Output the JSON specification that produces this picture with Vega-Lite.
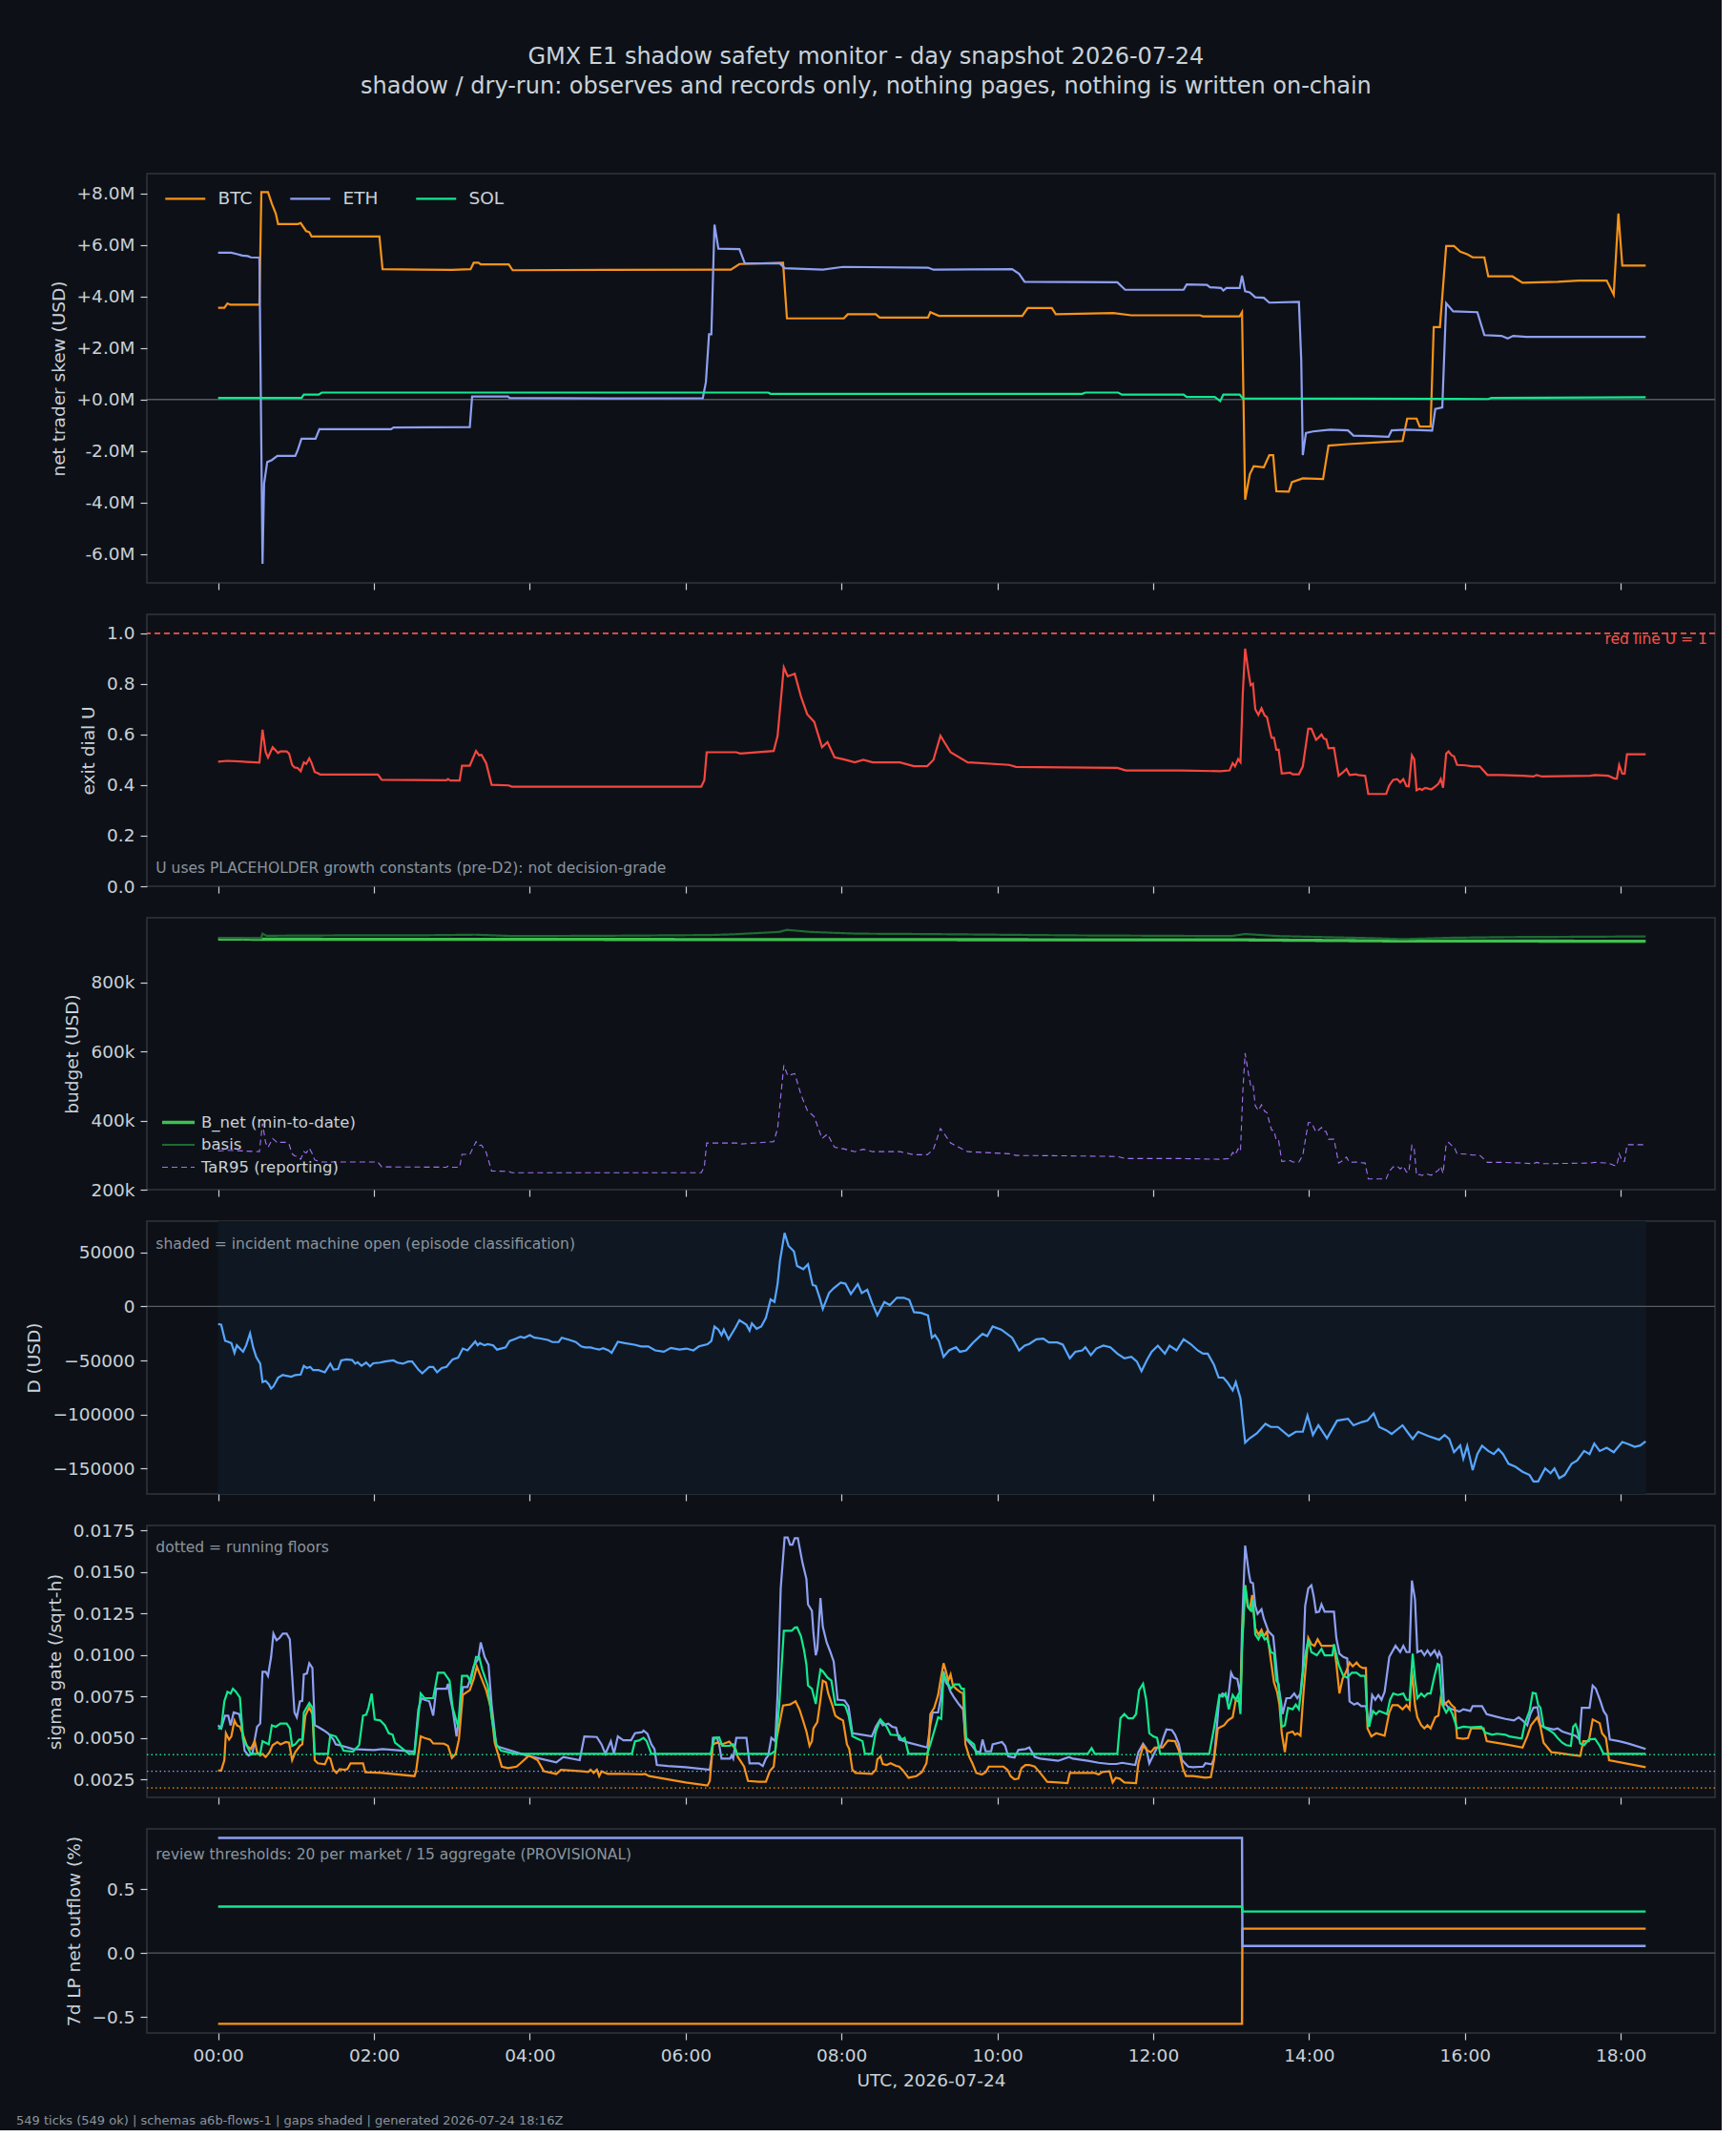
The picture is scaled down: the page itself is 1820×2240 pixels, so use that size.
{
"$schema":"https://vega.github.io/schema/vega-lite/v6.json",
"background":"#0d1117",
"padding":{"left":16,"top":48,"right":5,"bottom":2},
"title":{"text":["GMX E1 shadow safety monitor - day snapshot 2026-07-24","shadow / dry-run: observes and records only, nothing pages, nothing is written on-chain"],"anchor":"middle","frame":"bounds","fontSize":24,"fontWeight":"normal","color":"#c9d1d9","lineHeight":31,"offset":78,"font":"DejaVu Sans"},
"config":{"font":"DejaVu Sans","view":{"stroke":"#30363d","strokeWidth":1.5},
"axis":{"domain":false,"grid":false,"tickColor":"#c9d1d9","tickSize":7,"tickWidth":1.2,"labelColor":"#c9d1d9","labelFontSize":18.5,"labelFont":"DejaVu Sans","titleColor":"#c9d1d9","titleFontSize":18.5,"titleFont":"DejaVu Sans","titleFontWeight":"normal","labelPadding":6,"titlePadding":9},
"legend":{"labelColor":"#c9d1d9","labelFont":"DejaVu Sans","labelLimit":400}},
"spacing":33,
"bounds":"flush",
"resolve":{"scale":{"color":"independent","strokeDash":"independent","strokeWidth":"independent"},"legend":{"color":"independent","strokeDash":"independent","strokeWidth":"independent"}},
"datasets":{
"skew":[
{"h":0,"a":"BTC","v":3560000},{"h":0.08,"a":"BTC","v":3560000},{"h":0.12,"a":"BTC","v":3730000},{"h":0.16,"a":"BTC","v":3680000},{"h":0.53,"a":"BTC","v":3680000},{"h":0.555,"a":"BTC","v":8050000},{"h":0.64,"a":"BTC","v":8050000},{"h":0.69,"a":"BTC","v":7600000},{"h":0.74,"a":"BTC","v":7220000},{"h":0.77,"a":"BTC","v":6810000},{"h":1.02,"a":"BTC","v":6810000},{"h":1.06,"a":"BTC","v":6850000},{"h":1.13,"a":"BTC","v":6540000},{"h":1.17,"a":"BTC","v":6500000},{"h":1.2,"a":"BTC","v":6330000},{"h":2.07,"a":"BTC","v":6330000},{"h":2.11,"a":"BTC","v":5060000},{"h":2.6,"a":"BTC","v":5040000},{"h":3.0,"a":"BTC","v":5030000},{"h":3.24,"a":"BTC","v":5060000},{"h":3.28,"a":"BTC","v":5310000},{"h":3.34,"a":"BTC","v":5310000},{"h":3.37,"a":"BTC","v":5250000},{"h":3.73,"a":"BTC","v":5250000},{"h":3.78,"a":"BTC","v":5020000},{"h":5.0,"a":"BTC","v":5030000},{"h":6.58,"a":"BTC","v":5040000},{"h":6.69,"a":"BTC","v":5260000},{"h":7.25,"a":"BTC","v":5310000},{"h":7.3,"a":"BTC","v":3150000},{"h":8.03,"a":"BTC","v":3150000},{"h":8.08,"a":"BTC","v":3310000},{"h":8.44,"a":"BTC","v":3310000},{"h":8.49,"a":"BTC","v":3180000},{"h":9.11,"a":"BTC","v":3180000},{"h":9.14,"a":"BTC","v":3390000},{"h":9.25,"a":"BTC","v":3250000},{"h":10.32,"a":"BTC","v":3250000},{"h":10.39,"a":"BTC","v":3550000},{"h":10.7,"a":"BTC","v":3550000},{"h":10.75,"a":"BTC","v":3310000},{"h":11.49,"a":"BTC","v":3360000},{"h":11.72,"a":"BTC","v":3270000},{"h":12.6,"a":"BTC","v":3270000},{"h":12.64,"a":"BTC","v":3230000},{"h":13.11,"a":"BTC","v":3230000},{"h":13.14,"a":"BTC","v":3390000},{"h":13.18,"a":"BTC","v":-3890000},{"h":13.24,"a":"BTC","v":-2900000},{"h":13.29,"a":"BTC","v":-2590000},{"h":13.42,"a":"BTC","v":-2630000},{"h":13.49,"a":"BTC","v":-2160000},{"h":13.54,"a":"BTC","v":-2160000},{"h":13.58,"a":"BTC","v":-3560000},{"h":13.74,"a":"BTC","v":-3580000},{"h":13.78,"a":"BTC","v":-3210000},{"h":13.92,"a":"BTC","v":-3060000},{"h":14.18,"a":"BTC","v":-3090000},{"h":14.25,"a":"BTC","v":-1790000},{"h":14.5,"a":"BTC","v":-1730000},{"h":14.99,"a":"BTC","v":-1640000},{"h":15.2,"a":"BTC","v":-1610000},{"h":15.26,"a":"BTC","v":-740000},{"h":15.38,"a":"BTC","v":-740000},{"h":15.42,"a":"BTC","v":-1050000},{"h":15.56,"a":"BTC","v":-1050000},{"h":15.6,"a":"BTC","v":2810000},{"h":15.68,"a":"BTC","v":2810000},{"h":15.76,"a":"BTC","v":5960000},{"h":15.86,"a":"BTC","v":5960000},{"h":15.94,"a":"BTC","v":5740000},{"h":16.03,"a":"BTC","v":5640000},{"h":16.1,"a":"BTC","v":5520000},{"h":16.25,"a":"BTC","v":5520000},{"h":16.3,"a":"BTC","v":4780000},{"h":16.61,"a":"BTC","v":4780000},{"h":16.74,"a":"BTC","v":4530000},{"h":17.19,"a":"BTC","v":4570000},{"h":17.46,"a":"BTC","v":4620000},{"h":17.82,"a":"BTC","v":4620000},{"h":17.91,"a":"BTC","v":4070000},{"h":17.97,"a":"BTC","v":7220000},{"h":18.02,"a":"BTC","v":5200000},{"h":18.32,"a":"BTC","v":5200000},
{"h":0,"a":"ETH","v":5700000},{"h":0.17,"a":"ETH","v":5700000},{"h":0.25,"a":"ETH","v":5640000},{"h":0.31,"a":"ETH","v":5590000},{"h":0.38,"a":"ETH","v":5570000},{"h":0.42,"a":"ETH","v":5520000},{"h":0.53,"a":"ETH","v":5510000},{"h":0.57,"a":"ETH","v":-6380000},{"h":0.59,"a":"ETH","v":-3270000},{"h":0.63,"a":"ETH","v":-2430000},{"h":0.69,"a":"ETH","v":-2350000},{"h":0.76,"a":"ETH","v":-2190000},{"h":0.99,"a":"ETH","v":-2190000},{"h":1.02,"a":"ETH","v":-1980000},{"h":1.07,"a":"ETH","v":-1520000},{"h":1.25,"a":"ETH","v":-1520000},{"h":1.3,"a":"ETH","v":-1150000},{"h":2.22,"a":"ETH","v":-1150000},{"h":2.25,"a":"ETH","v":-1090000},{"h":3.23,"a":"ETH","v":-1070000},{"h":3.26,"a":"ETH","v":120000},{"h":3.72,"a":"ETH","v":120000},{"h":3.74,"a":"ETH","v":60000},{"h":5.0,"a":"ETH","v":40000},{"h":6.22,"a":"ETH","v":50000},{"h":6.26,"a":"ETH","v":680000},{"h":6.3,"a":"ETH","v":2530000},{"h":6.33,"a":"ETH","v":2530000},{"h":6.37,"a":"ETH","v":6790000},{"h":6.42,"a":"ETH","v":5860000},{"h":6.69,"a":"ETH","v":5840000},{"h":6.76,"a":"ETH","v":5280000},{"h":7.21,"a":"ETH","v":5280000},{"h":7.27,"a":"ETH","v":5100000},{"h":7.76,"a":"ETH","v":5040000},{"h":8.02,"a":"ETH","v":5150000},{"h":9.11,"a":"ETH","v":5120000},{"h":9.18,"a":"ETH","v":5040000},{"h":10.19,"a":"ETH","v":5060000},{"h":10.28,"a":"ETH","v":4880000},{"h":10.35,"a":"ETH","v":4570000},{"h":11.54,"a":"ETH","v":4550000},{"h":11.64,"a":"ETH","v":4260000},{"h":12.39,"a":"ETH","v":4260000},{"h":12.43,"a":"ETH","v":4470000},{"h":12.69,"a":"ETH","v":4450000},{"h":12.73,"a":"ETH","v":4360000},{"h":12.87,"a":"ETH","v":4330000},{"h":12.9,"a":"ETH","v":4230000},{"h":12.94,"a":"ETH","v":4330000},{"h":13.11,"a":"ETH","v":4330000},{"h":13.14,"a":"ETH","v":4810000},{"h":13.18,"a":"ETH","v":4200000},{"h":13.24,"a":"ETH","v":4160000},{"h":13.31,"a":"ETH","v":3970000},{"h":13.42,"a":"ETH","v":3950000},{"h":13.49,"a":"ETH","v":3760000},{"h":13.87,"a":"ETH","v":3790000},{"h":13.9,"a":"ETH","v":1540000},{"h":13.92,"a":"ETH","v":-2160000},{"h":13.96,"a":"ETH","v":-1300000},{"h":14.05,"a":"ETH","v":-1240000},{"h":14.27,"a":"ETH","v":-1170000},{"h":14.5,"a":"ETH","v":-1200000},{"h":14.57,"a":"ETH","v":-1400000},{"h":14.81,"a":"ETH","v":-1420000},{"h":15.02,"a":"ETH","v":-1450000},{"h":15.06,"a":"ETH","v":-1200000},{"h":15.26,"a":"ETH","v":-1170000},{"h":15.58,"a":"ETH","v":-1210000},{"h":15.62,"a":"ETH","v":-370000},{"h":15.71,"a":"ETH","v":-310000},{"h":15.76,"a":"ETH","v":3740000},{"h":15.85,"a":"ETH","v":3420000},{"h":16.16,"a":"ETH","v":3390000},{"h":16.25,"a":"ETH","v":2500000},{"h":16.47,"a":"ETH","v":2470000},{"h":16.55,"a":"ETH","v":2370000},{"h":16.62,"a":"ETH","v":2470000},{"h":16.79,"a":"ETH","v":2430000},{"h":18.32,"a":"ETH","v":2430000},
{"h":0,"a":"SOL","v":60000},{"h":1.07,"a":"SOL","v":60000},{"h":1.1,"a":"SOL","v":190000},{"h":1.29,"a":"SOL","v":190000},{"h":1.33,"a":"SOL","v":270000},{"h":7.06,"a":"SOL","v":270000},{"h":7.09,"a":"SOL","v":220000},{"h":11.09,"a":"SOL","v":220000},{"h":11.13,"a":"SOL","v":270000},{"h":11.55,"a":"SOL","v":270000},{"h":11.6,"a":"SOL","v":190000},{"h":12.39,"a":"SOL","v":190000},{"h":12.43,"a":"SOL","v":100000},{"h":12.79,"a":"SOL","v":100000},{"h":12.86,"a":"SOL","v":-60000},{"h":12.9,"a":"SOL","v":190000},{"h":13.11,"a":"SOL","v":190000},{"h":13.15,"a":"SOL","v":40000},{"h":16.3,"a":"SOL","v":20000},{"h":16.34,"a":"SOL","v":60000},{"h":18.32,"a":"SOL","v":90000}
],
"u":[
{"h":0,"u":0.493,"TaR95 (reporting)":312000},{"h":0.12,"u":0.496,"TaR95 (reporting)":314000},{"h":0.53,"u":0.489,"TaR95 (reporting)":310000},{"h":0.57,"u":0.619,"TaR95 (reporting)":392000},{"h":0.61,"u":0.531,"TaR95 (reporting)":336000},{"h":0.64,"u":0.509,"TaR95 (reporting)":322000},{"h":0.7,"u":0.55,"TaR95 (reporting)":348000},{"h":0.77,"u":0.527,"TaR95 (reporting)":334000},{"h":0.8,"u":0.533,"TaR95 (reporting)":337000},{"h":0.88,"u":0.533,"TaR95 (reporting)":337000},{"h":0.91,"u":0.525,"TaR95 (reporting)":332000},{"h":0.95,"u":0.48,"TaR95 (reporting)":304000},{"h":0.98,"u":0.47,"TaR95 (reporting)":298000},{"h":1.02,"u":0.468,"TaR95 (reporting)":296000},{"h":1.06,"u":0.455,"TaR95 (reporting)":288000},{"h":1.1,"u":0.49,"TaR95 (reporting)":310000},{"h":1.13,"u":0.484,"TaR95 (reporting)":306000},{"h":1.17,"u":0.506,"TaR95 (reporting)":320000},{"h":1.2,"u":0.487,"TaR95 (reporting)":308000},{"h":1.24,"u":0.452,"TaR95 (reporting)":286000},{"h":1.28,"u":0.447,"TaR95 (reporting)":283000},{"h":1.31,"u":0.442,"TaR95 (reporting)":280000},{"h":2.05,"u":0.442,"TaR95 (reporting)":280000},{"h":2.1,"u":0.421,"TaR95 (reporting)":266000},{"h":2.93,"u":0.419,"TaR95 (reporting)":265000},{"h":2.95,"u":0.424,"TaR95 (reporting)":268000},{"h":2.98,"u":0.418,"TaR95 (reporting)":265000},{"h":3.1,"u":0.418,"TaR95 (reporting)":265000},{"h":3.13,"u":0.477,"TaR95 (reporting)":302000},{"h":3.23,"u":0.477,"TaR95 (reporting)":302000},{"h":3.31,"u":0.535,"TaR95 (reporting)":339000},{"h":3.35,"u":0.518,"TaR95 (reporting)":328000},{"h":3.38,"u":0.52,"TaR95 (reporting)":329000},{"h":3.44,"u":0.487,"TaR95 (reporting)":308000},{"h":3.51,"u":0.401,"TaR95 (reporting)":254000},{"h":3.73,"u":0.399,"TaR95 (reporting)":253000},{"h":3.77,"u":0.394,"TaR95 (reporting)":249000},{"h":6.2,"u":0.394,"TaR95 (reporting)":249000},{"h":6.24,"u":0.42,"TaR95 (reporting)":266000},{"h":6.27,"u":0.53,"TaR95 (reporting)":335000},{"h":6.65,"u":0.53,"TaR95 (reporting)":335000},{"h":6.7,"u":0.525,"TaR95 (reporting)":332000},{"h":7.13,"u":0.535,"TaR95 (reporting)":339000},{"h":7.18,"u":0.595,"TaR95 (reporting)":377000},{"h":7.26,"u":0.865,"TaR95 (reporting)":560000},{"h":7.31,"u":0.83,"TaR95 (reporting)":530000},{"h":7.4,"u":0.84,"TaR95 (reporting)":536000},{"h":7.48,"u":0.75,"TaR95 (reporting)":475000},{"h":7.56,"u":0.68,"TaR95 (reporting)":430000},{"h":7.65,"u":0.65,"TaR95 (reporting)":411000},{"h":7.75,"u":0.55,"TaR95 (reporting)":348000},{"h":7.82,"u":0.57,"TaR95 (reporting)":361000},{"h":7.91,"u":0.51,"TaR95 (reporting)":323000},{"h":8.05,"u":0.5,"TaR95 (reporting)":317000},{"h":8.17,"u":0.49,"TaR95 (reporting)":310000},{"h":8.28,"u":0.5,"TaR95 (reporting)":317000},{"h":8.4,"u":0.49,"TaR95 (reporting)":310000},{"h":8.75,"u":0.49,"TaR95 (reporting)":310000},{"h":8.93,"u":0.475,"TaR95 (reporting)":301000},{"h":9.1,"u":0.475,"TaR95 (reporting)":301000},{"h":9.18,"u":0.5,"TaR95 (reporting)":317000},{"h":9.27,"u":0.595,"TaR95 (reporting)":377000},{"h":9.33,"u":0.565,"TaR95 (reporting)":358000},{"h":9.4,"u":0.53,"TaR95 (reporting)":335000},{"h":9.62,"u":0.49,"TaR95 (reporting)":310000},{"h":10.15,"u":0.48,"TaR95 (reporting)":304000},{"h":10.24,"u":0.472,"TaR95 (reporting)":299000},{"h":10.85,"u":0.47,"TaR95 (reporting)":298000},{"h":11.54,"u":0.468,"TaR95 (reporting)":296000},{"h":11.65,"u":0.458,"TaR95 (reporting)":290000},{"h":12.36,"u":0.458,"TaR95 (reporting)":290000},{"h":12.86,"u":0.455,"TaR95 (reporting)":288000},{"h":12.98,"u":0.458,"TaR95 (reporting)":290000},{"h":13.02,"u":0.487,"TaR95 (reporting)":308000},{"h":13.05,"u":0.474,"TaR95 (reporting)":300000},{"h":13.09,"u":0.503,"TaR95 (reporting)":318000},{"h":13.12,"u":0.491,"TaR95 (reporting)":311000},{"h":13.15,"u":0.763,"TaR95 (reporting)":483000},{"h":13.18,"u":0.94,"TaR95 (reporting)":595000},{"h":13.22,"u":0.852,"TaR95 (reporting)":539000},{"h":13.25,"u":0.795,"TaR95 (reporting)":503000},{"h":13.28,"u":0.801,"TaR95 (reporting)":507000},{"h":13.31,"u":0.7,"TaR95 (reporting)":443000},{"h":13.35,"u":0.678,"TaR95 (reporting)":429000},{"h":13.39,"u":0.704,"TaR95 (reporting)":446000},{"h":13.43,"u":0.675,"TaR95 (reporting)":427000},{"h":13.46,"u":0.669,"TaR95 (reporting)":423000},{"h":13.5,"u":0.613,"TaR95 (reporting)":388000},{"h":13.52,"u":0.587,"TaR95 (reporting)":372000},{"h":13.55,"u":0.587,"TaR95 (reporting)":372000},{"h":13.58,"u":0.54,"TaR95 (reporting)":342000},{"h":13.61,"u":0.54,"TaR95 (reporting)":342000},{"h":13.65,"u":0.446,"TaR95 (reporting)":282000},{"h":13.76,"u":0.449,"TaR95 (reporting)":284000},{"h":13.79,"u":0.443,"TaR95 (reporting)":280000},{"h":13.87,"u":0.443,"TaR95 (reporting)":280000},{"h":13.92,"u":0.474,"TaR95 (reporting)":300000},{"h":13.99,"u":0.623,"TaR95 (reporting)":394000},{"h":14.03,"u":0.623,"TaR95 (reporting)":394000},{"h":14.09,"u":0.579,"TaR95 (reporting)":367000},{"h":14.12,"u":0.587,"TaR95 (reporting)":372000},{"h":14.16,"u":0.6,"TaR95 (reporting)":380000},{"h":14.19,"u":0.584,"TaR95 (reporting)":370000},{"h":14.22,"u":0.581,"TaR95 (reporting)":368000},{"h":14.25,"u":0.546,"TaR95 (reporting)":346000},{"h":14.32,"u":0.547,"TaR95 (reporting)":346000},{"h":14.38,"u":0.437,"TaR95 (reporting)":277000},{"h":14.43,"u":0.449,"TaR95 (reporting)":284000},{"h":14.48,"u":0.464,"TaR95 (reporting)":294000},{"h":14.52,"u":0.44,"TaR95 (reporting)":279000},{"h":14.6,"u":0.443,"TaR95 (reporting)":280000},{"h":14.63,"u":0.44,"TaR95 (reporting)":279000},{"h":14.72,"u":0.437,"TaR95 (reporting)":277000},{"h":14.76,"u":0.365,"TaR95 (reporting)":231000},{"h":14.99,"u":0.365,"TaR95 (reporting)":231000},{"h":15.03,"u":0.399,"TaR95 (reporting)":253000},{"h":15.08,"u":0.421,"TaR95 (reporting)":266000},{"h":15.13,"u":0.424,"TaR95 (reporting)":268000},{"h":15.17,"u":0.411,"TaR95 (reporting)":260000},{"h":15.21,"u":0.424,"TaR95 (reporting)":268000},{"h":15.25,"u":0.396,"TaR95 (reporting)":251000},{"h":15.28,"u":0.395,"TaR95 (reporting)":250000},{"h":15.32,"u":0.518,"TaR95 (reporting)":328000},{"h":15.35,"u":0.502,"TaR95 (reporting)":318000},{"h":15.38,"u":0.38,"TaR95 (reporting)":241000},{"h":15.42,"u":0.386,"TaR95 (reporting)":244000},{"h":15.45,"u":0.381,"TaR95 (reporting)":241000},{"h":15.49,"u":0.389,"TaR95 (reporting)":246000},{"h":15.53,"u":0.386,"TaR95 (reporting)":244000},{"h":15.57,"u":0.383,"TaR95 (reporting)":242000},{"h":15.62,"u":0.395,"TaR95 (reporting)":250000},{"h":15.66,"u":0.405,"TaR95 (reporting)":256000},{"h":15.69,"u":0.424,"TaR95 (reporting)":268000},{"h":15.72,"u":0.39,"TaR95 (reporting)":247000},{"h":15.76,"u":0.524,"TaR95 (reporting)":332000},{"h":15.79,"u":0.533,"TaR95 (reporting)":337000},{"h":15.83,"u":0.518,"TaR95 (reporting)":328000},{"h":15.86,"u":0.514,"TaR95 (reporting)":325000},{"h":15.9,"u":0.48,"TaR95 (reporting)":304000},{"h":16.01,"u":0.478,"TaR95 (reporting)":303000},{"h":16.1,"u":0.474,"TaR95 (reporting)":300000},{"h":16.19,"u":0.474,"TaR95 (reporting)":300000},{"h":16.29,"u":0.44,"TaR95 (reporting)":279000},{"h":16.46,"u":0.44,"TaR95 (reporting)":279000},{"h":16.74,"u":0.437,"TaR95 (reporting)":277000},{"h":16.88,"u":0.434,"TaR95 (reporting)":275000},{"h":16.92,"u":0.44,"TaR95 (reporting)":279000},{"h":16.99,"u":0.434,"TaR95 (reporting)":275000},{"h":17.61,"u":0.437,"TaR95 (reporting)":277000},{"h":17.67,"u":0.44,"TaR95 (reporting)":279000},{"h":17.84,"u":0.437,"TaR95 (reporting)":277000},{"h":17.92,"u":0.426,"TaR95 (reporting)":270000},{"h":17.95,"u":0.426,"TaR95 (reporting)":270000},{"h":17.98,"u":0.48,"TaR95 (reporting)":304000},{"h":18.02,"u":0.445,"TaR95 (reporting)":282000},{"h":18.05,"u":0.445,"TaR95 (reporting)":282000},{"h":18.08,"u":0.522,"TaR95 (reporting)":330000},{"h":18.32,"u":0.522,"TaR95 (reporting)":330000}
],
"budget":[
{"h":0,"s":"B_net (min-to-date)","v":925000},{"h":13.15,"s":"B_net (min-to-date)","v":923000},{"h":15.0,"s":"B_net (min-to-date)","v":920000},{"h":18.32,"s":"B_net (min-to-date)","v":919000},
{"h":0,"s":"basis","v":929000},{"h":0.55,"s":"basis","v":928000},{"h":0.57,"s":"basis","v":941000},{"h":0.62,"s":"basis","v":935000},{"h":1.5,"s":"basis","v":936000},{"h":2.5,"s":"basis","v":936000},{"h":3.3,"s":"basis","v":938000},{"h":3.8,"s":"basis","v":934000},{"h":5,"s":"basis","v":935000},{"h":6.3,"s":"basis","v":937000},{"h":6.6,"s":"basis","v":939000},{"h":7.2,"s":"basis","v":946000},{"h":7.3,"s":"basis","v":952000},{"h":7.6,"s":"basis","v":946000},{"h":8.2,"s":"basis","v":941000},{"h":9,"s":"basis","v":940000},{"h":10,"s":"basis","v":938000},{"h":11,"s":"basis","v":936000},{"h":12,"s":"basis","v":935000},{"h":13,"s":"basis","v":934000},{"h":13.18,"s":"basis","v":940000},{"h":13.6,"s":"basis","v":934000},{"h":14,"s":"basis","v":932000},{"h":14.8,"s":"basis","v":928000},{"h":15.2,"s":"basis","v":925000},{"h":15.8,"s":"basis","v":929000},{"h":16.5,"s":"basis","v":931000},{"h":17.5,"s":"basis","v":932000},{"h":18.32,"s":"basis","v":933000}
],
"d":[
{"h":0,"v":-16200},{"h":0.04,"v":-17000},{"h":0.09,"v":-31900},{"h":0.13,"v":-32800},{"h":0.17,"v":-34000},{"h":0.21,"v":-43000},{"h":0.24,"v":-36000},{"h":0.28,"v":-39000},{"h":0.32,"v":-42000},{"h":0.36,"v":-36000},{"h":0.41,"v":-25000},{"h":0.45,"v":-38000},{"h":0.49,"v":-47000},{"h":0.54,"v":-53000},{"h":0.57,"v":-70000},{"h":0.61,"v":-69000},{"h":0.65,"v":-72000},{"h":0.68,"v":-76000},{"h":0.71,"v":-74000},{"h":0.77,"v":-66000},{"h":0.83,"v":-63500},{"h":0.86,"v":-64000},{"h":0.94,"v":-65000},{"h":0.99,"v":-63500},{"h":1.06,"v":-63000},{"h":1.1,"v":-55000},{"h":1.14,"v":-57000},{"h":1.18,"v":-56000},{"h":1.22,"v":-59000},{"h":1.29,"v":-59000},{"h":1.37,"v":-61000},{"h":1.44,"v":-53000},{"h":1.48,"v":-58500},{"h":1.54,"v":-58000},{"h":1.58,"v":-50000},{"h":1.65,"v":-49000},{"h":1.72,"v":-49600},{"h":1.76,"v":-53000},{"h":1.79,"v":-51700},{"h":1.84,"v":-55000},{"h":1.9,"v":-52000},{"h":1.95,"v":-55500},{"h":1.99,"v":-52600},{"h":2.08,"v":-52000},{"h":2.14,"v":-51000},{"h":2.25,"v":-50000},{"h":2.3,"v":-52000},{"h":2.37,"v":-53000},{"h":2.44,"v":-51000},{"h":2.49,"v":-51000},{"h":2.57,"v":-58500},{"h":2.62,"v":-62000},{"h":2.68,"v":-58000},{"h":2.71,"v":-56000},{"h":2.76,"v":-56000},{"h":2.81,"v":-61000},{"h":2.87,"v":-57000},{"h":2.93,"v":-56000},{"h":3.01,"v":-49000},{"h":3.08,"v":-47500},{"h":3.14,"v":-39000},{"h":3.2,"v":-40700},{"h":3.3,"v":-32500},{"h":3.33,"v":-36000},{"h":3.36,"v":-34000},{"h":3.42,"v":-36000},{"h":3.46,"v":-35000},{"h":3.53,"v":-36000},{"h":3.58,"v":-40000},{"h":3.69,"v":-38000},{"h":3.74,"v":-32000},{"h":3.82,"v":-30000},{"h":3.88,"v":-28000},{"h":3.93,"v":-29000},{"h":4.0,"v":-26600},{"h":4.06,"v":-29000},{"h":4.12,"v":-29500},{"h":4.23,"v":-31000},{"h":4.29,"v":-33000},{"h":4.37,"v":-33000},{"h":4.41,"v":-29000},{"h":4.51,"v":-31000},{"h":4.59,"v":-33000},{"h":4.66,"v":-37000},{"h":4.71,"v":-38000},{"h":4.78,"v":-38000},{"h":4.83,"v":-39000},{"h":4.89,"v":-40000},{"h":4.94,"v":-38700},{"h":5.01,"v":-40700},{"h":5.05,"v":-43000},{"h":5.13,"v":-32800},{"h":5.22,"v":-34000},{"h":5.34,"v":-35400},{"h":5.43,"v":-37000},{"h":5.52,"v":-37000},{"h":5.61,"v":-40700},{"h":5.72,"v":-42000},{"h":5.81,"v":-38400},{"h":5.92,"v":-40000},{"h":6.01,"v":-39000},{"h":6.1,"v":-40700},{"h":6.17,"v":-37000},{"h":6.28,"v":-35000},{"h":6.33,"v":-32000},{"h":6.37,"v":-18600},{"h":6.42,"v":-21500},{"h":6.46,"v":-26600},{"h":6.49,"v":-21500},{"h":6.55,"v":-30400},{"h":6.64,"v":-19500},{"h":6.69,"v":-12700},{"h":6.78,"v":-17000},{"h":6.82,"v":-22400},{"h":6.85,"v":-15700},{"h":6.91,"v":-20700},{"h":6.97,"v":-18600},{"h":7.03,"v":-10600},{"h":7.09,"v":6500},{"h":7.14,"v":4100},{"h":7.18,"v":21000},{"h":7.21,"v":42000},{"h":7.27,"v":68000},{"h":7.32,"v":56000},{"h":7.39,"v":50800},{"h":7.43,"v":37500},{"h":7.51,"v":34500},{"h":7.57,"v":39000},{"h":7.63,"v":19800},{"h":7.67,"v":18900},{"h":7.72,"v":8000},{"h":7.76,"v":-2400},{"h":7.84,"v":12400},{"h":7.9,"v":16800},{"h":7.99,"v":22000},{"h":8.05,"v":21000},{"h":8.12,"v":11500},{"h":8.21,"v":20700},{"h":8.26,"v":12400},{"h":8.33,"v":15400},{"h":8.39,"v":3500},{"h":8.46,"v":-8300},{"h":8.55,"v":4100},{"h":8.62,"v":1200},{"h":8.71,"v":8000},{"h":8.8,"v":8000},{"h":8.87,"v":6000},{"h":8.93,"v":-5300},{"h":9.02,"v":-6000},{"h":9.11,"v":-8300},{"h":9.16,"v":-29000},{"h":9.2,"v":-26600},{"h":9.25,"v":-32000},{"h":9.31,"v":-46700},{"h":9.38,"v":-40700},{"h":9.47,"v":-37800},{"h":9.52,"v":-42000},{"h":9.6,"v":-40700},{"h":9.69,"v":-33400},{"h":9.81,"v":-25400},{"h":9.87,"v":-27500},{"h":9.94,"v":-18600},{"h":10.05,"v":-21500},{"h":10.19,"v":-29000},{"h":10.28,"v":-40700},{"h":10.35,"v":-36300},{"h":10.41,"v":-34800},{"h":10.5,"v":-30400},{"h":10.59,"v":-29800},{"h":10.66,"v":-33400},{"h":10.77,"v":-33400},{"h":10.84,"v":-35400},{"h":10.93,"v":-48000},{"h":11.0,"v":-42000},{"h":11.09,"v":-40700},{"h":11.13,"v":-37800},{"h":11.2,"v":-45000},{"h":11.27,"v":-39000},{"h":11.36,"v":-36300},{"h":11.45,"v":-37800},{"h":11.54,"v":-43700},{"h":11.63,"v":-48000},{"h":11.72,"v":-46700},{"h":11.79,"v":-51000},{"h":11.85,"v":-60000},{"h":11.92,"v":-49600},{"h":11.98,"v":-42000},{"h":12.06,"v":-36300},{"h":12.15,"v":-43700},{"h":12.21,"v":-36300},{"h":12.3,"v":-40700},{"h":12.39,"v":-30400},{"h":12.48,"v":-34800},{"h":12.57,"v":-40700},{"h":12.64,"v":-43700},{"h":12.7,"v":-43700},{"h":12.78,"v":-54000},{"h":12.84,"v":-65900},{"h":12.9,"v":-65900},{"h":12.95,"v":-70000},{"h":13.02,"v":-77700},{"h":13.06,"v":-70000},{"h":13.12,"v":-85000},{"h":13.18,"v":-126000},{"h":13.24,"v":-122000},{"h":13.33,"v":-117500},{"h":13.44,"v":-108700},{"h":13.51,"v":-111600},{"h":13.6,"v":-111600},{"h":13.74,"v":-120000},{"h":13.83,"v":-116000},{"h":13.92,"v":-116000},{"h":13.98,"v":-101000},{"h":14.05,"v":-119000},{"h":14.12,"v":-110000},{"h":14.23,"v":-122000},{"h":14.36,"v":-105700},{"h":14.5,"v":-104000},{"h":14.57,"v":-110000},{"h":14.68,"v":-107000},{"h":14.75,"v":-105700},{"h":14.83,"v":-99000},{"h":14.9,"v":-111600},{"h":14.99,"v":-114600},{"h":15.06,"v":-118000},{"h":15.2,"v":-110000},{"h":15.26,"v":-116000},{"h":15.33,"v":-122800},{"h":15.4,"v":-116000},{"h":15.53,"v":-120000},{"h":15.67,"v":-123400},{"h":15.74,"v":-119000},{"h":15.8,"v":-122800},{"h":15.86,"v":-135000},{"h":15.94,"v":-128700},{"h":15.98,"v":-141000},{"h":16.03,"v":-129000},{"h":16.1,"v":-151500},{"h":16.16,"v":-136700},{"h":16.22,"v":-129000},{"h":16.3,"v":-133800},{"h":16.37,"v":-136700},{"h":16.43,"v":-132000},{"h":16.49,"v":-136700},{"h":16.56,"v":-145600},{"h":16.65,"v":-148500},{"h":16.74,"v":-153000},{"h":16.83,"v":-156000},{"h":16.88,"v":-162000},{"h":16.94,"v":-162000},{"h":17.03,"v":-150000},{"h":17.1,"v":-154400},{"h":17.15,"v":-150000},{"h":17.21,"v":-158900},{"h":17.28,"v":-156000},{"h":17.37,"v":-145600},{"h":17.44,"v":-142600},{"h":17.53,"v":-133800},{"h":17.6,"v":-136700},{"h":17.66,"v":-127000},{"h":17.73,"v":-133800},{"h":17.82,"v":-130800},{"h":17.91,"v":-135000},{"h":18.02,"v":-125500},{"h":18.09,"v":-127300},{"h":18.18,"v":-130000},{"h":18.25,"v":-128700},{"h":18.32,"v":-125000}
],
"sig":[
{"h":0,"a":"ETH","v":0.00577},{"h":0.04,"a":"ETH","v":0.00558},{"h":0.09,"a":"ETH","v":0.00635},{"h":0.13,"a":"ETH","v":0.00635},{"h":0.16,"a":"ETH","v":0.00577},{"h":0.2,"a":"ETH","v":0.00654},{"h":0.27,"a":"ETH","v":0.00644},{"h":0.3,"a":"ETH","v":0.00587},{"h":0.34,"a":"ETH","v":0.00424},{"h":0.39,"a":"ETH","v":0.00395},{"h":0.44,"a":"ETH","v":0.00405},{"h":0.47,"a":"ETH","v":0.00491},{"h":0.5,"a":"ETH","v":0.00568},{"h":0.54,"a":"ETH","v":0.00587},{"h":0.57,"a":"ETH","v":0.00899},{"h":0.61,"a":"ETH","v":0.00899},{"h":0.64,"a":"ETH","v":0.00874},{"h":0.68,"a":"ETH","v":0.00988},{"h":0.71,"a":"ETH","v":0.01128},{"h":0.75,"a":"ETH","v":0.01088},{"h":0.79,"a":"ETH","v":0.01103},{"h":0.83,"a":"ETH","v":0.01128},{"h":0.88,"a":"ETH","v":0.01128},{"h":0.92,"a":"ETH","v":0.01094},{"h":0.95,"a":"ETH","v":0.00874},{"h":0.98,"a":"ETH","v":0.00654},{"h":1.01,"a":"ETH","v":0.00625},{"h":1.05,"a":"ETH","v":0.00721},{"h":1.08,"a":"ETH","v":0.00724},{"h":1.1,"a":"ETH","v":0.00883},{"h":1.14,"a":"ETH","v":0.00889},{"h":1.17,"a":"ETH","v":0.0095},{"h":1.21,"a":"ETH","v":0.00921},{"h":1.24,"a":"ETH","v":0.00577},{"h":1.28,"a":"ETH","v":0.00568},{"h":1.35,"a":"ETH","v":0.00548},{"h":1.41,"a":"ETH","v":0.00529},{"h":1.48,"a":"ETH","v":0.00491},{"h":1.51,"a":"ETH","v":0.00462},{"h":1.56,"a":"ETH","v":0.00457},{"h":1.73,"a":"ETH","v":0.00434},{"h":2.0,"a":"ETH","v":0.00428},{"h":2.11,"a":"ETH","v":0.00434},{"h":2.27,"a":"ETH","v":0.00428},{"h":2.52,"a":"ETH","v":0.00418},{"h":2.57,"a":"ETH","v":0.00673},{"h":2.61,"a":"ETH","v":0.0074},{"h":2.65,"a":"ETH","v":0.0073},{"h":2.71,"a":"ETH","v":0.00721},{"h":2.76,"a":"ETH","v":0.00635},{"h":2.8,"a":"ETH","v":0.00797},{"h":2.93,"a":"ETH","v":0.00797},{"h":2.95,"a":"ETH","v":0.00826},{"h":2.98,"a":"ETH","v":0.0074},{"h":3.01,"a":"ETH","v":0.00673},{"h":3.06,"a":"ETH","v":0.0051},{"h":3.11,"a":"ETH","v":0.00682},{"h":3.14,"a":"ETH","v":0.00807},{"h":3.2,"a":"ETH","v":0.00807},{"h":3.23,"a":"ETH","v":0.00845},{"h":3.28,"a":"ETH","v":0.00931},{"h":3.34,"a":"ETH","v":0.00979},{"h":3.37,"a":"ETH","v":0.01075},{"h":3.42,"a":"ETH","v":0.00988},{"h":3.47,"a":"ETH","v":0.00941},{"h":3.51,"a":"ETH","v":0.00701},{"h":3.57,"a":"ETH","v":0.00453},{"h":3.63,"a":"ETH","v":0.00443},{"h":3.96,"a":"ETH","v":0.00395},{"h":4.34,"a":"ETH","v":0.00353},{"h":4.43,"a":"ETH","v":0.00386},{"h":4.64,"a":"ETH","v":0.00367},{"h":4.7,"a":"ETH","v":0.0051},{"h":4.86,"a":"ETH","v":0.00506},{"h":4.92,"a":"ETH","v":0.00462},{"h":4.97,"a":"ETH","v":0.00405},{"h":5.04,"a":"ETH","v":0.00481},{"h":5.08,"a":"ETH","v":0.00405},{"h":5.13,"a":"ETH","v":0.0051},{"h":5.2,"a":"ETH","v":0.00487},{"h":5.3,"a":"ETH","v":0.00487},{"h":5.35,"a":"ETH","v":0.00529},{"h":5.44,"a":"ETH","v":0.00535},{"h":5.46,"a":"ETH","v":0.00545},{"h":5.51,"a":"ETH","v":0.00525},{"h":5.56,"a":"ETH","v":0.00462},{"h":5.6,"a":"ETH","v":0.00434},{"h":5.63,"a":"ETH","v":0.00338},{"h":5.77,"a":"ETH","v":0.00332},{"h":6.0,"a":"ETH","v":0.00325},{"h":6.31,"a":"ETH","v":0.00309},{"h":6.33,"a":"ETH","v":0.00376},{"h":6.35,"a":"ETH","v":0.00501},{"h":6.4,"a":"ETH","v":0.00501},{"h":6.43,"a":"ETH","v":0.00462},{"h":6.46,"a":"ETH","v":0.00376},{"h":6.57,"a":"ETH","v":0.00376},{"h":6.59,"a":"ETH","v":0.00395},{"h":6.61,"a":"ETH","v":0.00376},{"h":6.65,"a":"ETH","v":0.00501},{"h":6.78,"a":"ETH","v":0.00501},{"h":6.82,"a":"ETH","v":0.00348},{"h":6.94,"a":"ETH","v":0.00348},{"h":6.99,"a":"ETH","v":0.00332},{"h":7.03,"a":"ETH","v":0.00376},{"h":7.06,"a":"ETH","v":0.00395},{"h":7.1,"a":"ETH","v":0.00501},{"h":7.15,"a":"ETH","v":0.00481},{"h":7.18,"a":"ETH","v":0.00768},{"h":7.22,"a":"ETH","v":0.014},{"h":7.27,"a":"ETH","v":0.01706},{"h":7.31,"a":"ETH","v":0.01706},{"h":7.34,"a":"ETH","v":0.01664},{"h":7.37,"a":"ETH","v":0.01664},{"h":7.4,"a":"ETH","v":0.01702},{"h":7.44,"a":"ETH","v":0.01702},{"h":7.5,"a":"ETH","v":0.01553},{"h":7.55,"a":"ETH","v":0.01457},{"h":7.57,"a":"ETH","v":0.01304},{"h":7.62,"a":"ETH","v":0.01266},{"h":7.64,"a":"ETH","v":0.01132},{"h":7.67,"a":"ETH","v":0.00998},{"h":7.69,"a":"ETH","v":0.01036},{"h":7.73,"a":"ETH","v":0.01342},{"h":7.76,"a":"ETH","v":0.0117},{"h":7.81,"a":"ETH","v":0.01075},{"h":7.85,"a":"ETH","v":0.01027},{"h":7.9,"a":"ETH","v":0.0096},{"h":7.95,"a":"ETH","v":0.0073},{"h":7.97,"a":"ETH","v":0.0073},{"h":8.04,"a":"ETH","v":0.00726},{"h":8.09,"a":"ETH","v":0.00692},{"h":8.14,"a":"ETH","v":0.00529},{"h":8.21,"a":"ETH","v":0.00524},{"h":8.39,"a":"ETH","v":0.0051},{"h":8.44,"a":"ETH","v":0.00568},{"h":8.49,"a":"ETH","v":0.00606},{"h":8.53,"a":"ETH","v":0.00577},{"h":8.6,"a":"ETH","v":0.00587},{"h":8.65,"a":"ETH","v":0.00568},{"h":8.7,"a":"ETH","v":0.00562},{"h":8.74,"a":"ETH","v":0.00491},{"h":8.81,"a":"ETH","v":0.00481},{"h":8.86,"a":"ETH","v":0.00472},{"h":9.1,"a":"ETH","v":0.00443},{"h":9.14,"a":"ETH","v":0.00577},{"h":9.17,"a":"ETH","v":0.00654},{"h":9.24,"a":"ETH","v":0.00654},{"h":9.27,"a":"ETH","v":0.0073},{"h":9.31,"a":"ETH","v":0.00902},{"h":9.34,"a":"ETH","v":0.00835},{"h":9.37,"a":"ETH","v":0.00816},{"h":9.4,"a":"ETH","v":0.00778},{"h":9.45,"a":"ETH","v":0.0074},{"h":9.51,"a":"ETH","v":0.00701},{"h":9.56,"a":"ETH","v":0.00673},{"h":9.59,"a":"ETH","v":0.00501},{"h":9.66,"a":"ETH","v":0.00462},{"h":9.73,"a":"ETH","v":0.0042},{"h":9.78,"a":"ETH","v":0.00415},{"h":9.81,"a":"ETH","v":0.00491},{"h":9.85,"a":"ETH","v":0.0042},{"h":9.92,"a":"ETH","v":0.0042},{"h":9.94,"a":"ETH","v":0.00462},{"h":10.06,"a":"ETH","v":0.00476},{"h":10.1,"a":"ETH","v":0.00453},{"h":10.14,"a":"ETH","v":0.0039},{"h":10.22,"a":"ETH","v":0.00382},{"h":10.27,"a":"ETH","v":0.00428},{"h":10.36,"a":"ETH","v":0.00434},{"h":10.41,"a":"ETH","v":0.00443},{"h":10.48,"a":"ETH","v":0.00386},{"h":10.55,"a":"ETH","v":0.00376},{"h":10.78,"a":"ETH","v":0.00363},{"h":10.92,"a":"ETH","v":0.00386},{"h":10.97,"a":"ETH","v":0.00376},{"h":11.16,"a":"ETH","v":0.00363},{"h":11.3,"a":"ETH","v":0.00351},{"h":11.44,"a":"ETH","v":0.00344},{"h":11.53,"a":"ETH","v":0.00344},{"h":11.6,"a":"ETH","v":0.00351},{"h":11.77,"a":"ETH","v":0.00338},{"h":11.81,"a":"ETH","v":0.00415},{"h":11.87,"a":"ETH","v":0.00466},{"h":11.91,"a":"ETH","v":0.00439},{"h":11.95,"a":"ETH","v":0.00348},{"h":11.99,"a":"ETH","v":0.00386},{"h":12.05,"a":"ETH","v":0.00443},{"h":12.1,"a":"ETH","v":0.00453},{"h":12.13,"a":"ETH","v":0.00501},{"h":12.17,"a":"ETH","v":0.00552},{"h":12.24,"a":"ETH","v":0.00548},{"h":12.28,"a":"ETH","v":0.0052},{"h":12.33,"a":"ETH","v":0.00462},{"h":12.37,"a":"ETH","v":0.00367},{"h":12.45,"a":"ETH","v":0.00328},{"h":12.51,"a":"ETH","v":0.00325},{"h":12.64,"a":"ETH","v":0.00328},{"h":12.67,"a":"ETH","v":0.00348},{"h":12.75,"a":"ETH","v":0.00342},{"h":12.78,"a":"ETH","v":0.00376},{"h":12.81,"a":"ETH","v":0.00529},{"h":12.85,"a":"ETH","v":0.00749},{"h":12.89,"a":"ETH","v":0.00768},{"h":12.92,"a":"ETH","v":0.00759},{"h":12.96,"a":"ETH","v":0.0073},{"h":13.0,"a":"ETH","v":0.00893},{"h":13.03,"a":"ETH","v":0.00864},{"h":13.08,"a":"ETH","v":0.00855},{"h":13.12,"a":"ETH","v":0.00759},{"h":13.14,"a":"ETH","v":0.0116},{"h":13.18,"a":"ETH","v":0.01658},{"h":13.23,"a":"ETH","v":0.01486},{"h":13.25,"a":"ETH","v":0.01438},{"h":13.28,"a":"ETH","v":0.01432},{"h":13.31,"a":"ETH","v":0.01295},{"h":13.34,"a":"ETH","v":0.01247},{"h":13.39,"a":"ETH","v":0.01275},{"h":13.42,"a":"ETH","v":0.01218},{"h":13.48,"a":"ETH","v":0.01141},{"h":13.54,"a":"ETH","v":0.01113},{"h":13.57,"a":"ETH","v":0.00979},{"h":13.6,"a":"ETH","v":0.00835},{"h":13.64,"a":"ETH","v":0.00721},{"h":13.66,"a":"ETH","v":0.00644},{"h":13.71,"a":"ETH","v":0.0074},{"h":13.76,"a":"ETH","v":0.0074},{"h":13.81,"a":"ETH","v":0.00768},{"h":13.85,"a":"ETH","v":0.0074},{"h":13.89,"a":"ETH","v":0.00768},{"h":13.92,"a":"ETH","v":0.00912},{"h":13.95,"a":"ETH","v":0.01295},{"h":13.99,"a":"ETH","v":0.014},{"h":14.03,"a":"ETH","v":0.01419},{"h":14.06,"a":"ETH","v":0.01352},{"h":14.09,"a":"ETH","v":0.01256},{"h":14.13,"a":"ETH","v":0.0126},{"h":14.16,"a":"ETH","v":0.01304},{"h":14.2,"a":"ETH","v":0.0126},{"h":14.32,"a":"ETH","v":0.0126},{"h":14.35,"a":"ETH","v":0.01103},{"h":14.39,"a":"ETH","v":0.01008},{"h":14.44,"a":"ETH","v":0.00988},{"h":14.49,"a":"ETH","v":0.00979},{"h":14.52,"a":"ETH","v":0.00721},{"h":14.58,"a":"ETH","v":0.00701},{"h":14.62,"a":"ETH","v":0.00711},{"h":14.67,"a":"ETH","v":0.00692},{"h":14.73,"a":"ETH","v":0.00692},{"h":14.77,"a":"ETH","v":0.00568},{"h":14.81,"a":"ETH","v":0.00759},{"h":14.85,"a":"ETH","v":0.0073},{"h":14.89,"a":"ETH","v":0.00759},{"h":14.93,"a":"ETH","v":0.0073},{"h":14.97,"a":"ETH","v":0.00778},{"h":15.03,"a":"ETH","v":0.00988},{"h":15.11,"a":"ETH","v":0.01055},{"h":15.17,"a":"ETH","v":0.01017},{"h":15.21,"a":"ETH","v":0.01055},{"h":15.25,"a":"ETH","v":0.01017},{"h":15.29,"a":"ETH","v":0.01017},{"h":15.32,"a":"ETH","v":0.01448},{"h":15.36,"a":"ETH","v":0.01333},{"h":15.39,"a":"ETH","v":0.01017},{"h":15.44,"a":"ETH","v":0.01027},{"h":15.48,"a":"ETH","v":0.00998},{"h":15.52,"a":"ETH","v":0.01027},{"h":15.56,"a":"ETH","v":0.00998},{"h":15.61,"a":"ETH","v":0.01027},{"h":15.65,"a":"ETH","v":0.00988},{"h":15.67,"a":"ETH","v":0.01017},{"h":15.7,"a":"ETH","v":0.00988},{"h":15.73,"a":"ETH","v":0.00721},{"h":15.79,"a":"ETH","v":0.00682},{"h":15.84,"a":"ETH","v":0.00673},{"h":15.93,"a":"ETH","v":0.00659},{"h":15.98,"a":"ETH","v":0.00673},{"h":16.07,"a":"ETH","v":0.00663},{"h":16.1,"a":"ETH","v":0.00692},{"h":16.22,"a":"ETH","v":0.00692},{"h":16.28,"a":"ETH","v":0.00644},{"h":16.4,"a":"ETH","v":0.00629},{"h":16.52,"a":"ETH","v":0.00615},{"h":16.63,"a":"ETH","v":0.00606},{"h":16.69,"a":"ETH","v":0.00625},{"h":16.74,"a":"ETH","v":0.00606},{"h":16.8,"a":"ETH","v":0.00577},{"h":16.84,"a":"ETH","v":0.00644},{"h":16.88,"a":"ETH","v":0.00682},{"h":16.93,"a":"ETH","v":0.00686},{"h":16.97,"a":"ETH","v":0.00577},{"h":17.02,"a":"ETH","v":0.00564},{"h":17.14,"a":"ETH","v":0.00552},{"h":17.19,"a":"ETH","v":0.00558},{"h":17.25,"a":"ETH","v":0.00539},{"h":17.42,"a":"ETH","v":0.00514},{"h":17.47,"a":"ETH","v":0.00491},{"h":17.5,"a":"ETH","v":0.00682},{"h":17.6,"a":"ETH","v":0.00682},{"h":17.64,"a":"ETH","v":0.00816},{"h":17.68,"a":"ETH","v":0.00797},{"h":17.74,"a":"ETH","v":0.00721},{"h":17.78,"a":"ETH","v":0.00663},{"h":17.82,"a":"ETH","v":0.00635},{"h":17.86,"a":"ETH","v":0.00491},{"h":17.98,"a":"ETH","v":0.00481},{"h":18.09,"a":"ETH","v":0.00468},{"h":18.32,"a":"ETH","v":0.00434},
{"h":0,"a":"BTC","v":0.00305},{"h":0.04,"a":"BTC","v":0.00305},{"h":0.08,"a":"BTC","v":0.00367},{"h":0.1,"a":"BTC","v":0.00529},{"h":0.14,"a":"BTC","v":0.00491},{"h":0.17,"a":"BTC","v":0.0051},{"h":0.21,"a":"BTC","v":0.00606},{"h":0.24,"a":"BTC","v":0.00577},{"h":0.28,"a":"BTC","v":0.00568},{"h":0.32,"a":"BTC","v":0.0052},{"h":0.37,"a":"BTC","v":0.00453},{"h":0.42,"a":"BTC","v":0.00434},{"h":0.47,"a":"BTC","v":0.00481},{"h":0.5,"a":"BTC","v":0.00415},{"h":0.54,"a":"BTC","v":0.00395},{"h":0.57,"a":"BTC","v":0.00405},{"h":0.61,"a":"BTC","v":0.00386},{"h":0.66,"a":"BTC","v":0.00415},{"h":0.7,"a":"BTC","v":0.00457},{"h":0.76,"a":"BTC","v":0.00476},{"h":0.8,"a":"BTC","v":0.00462},{"h":0.87,"a":"BTC","v":0.00476},{"h":0.91,"a":"BTC","v":0.00472},{"h":0.95,"a":"BTC","v":0.00367},{"h":0.99,"a":"BTC","v":0.00415},{"h":1.05,"a":"BTC","v":0.00453},{"h":1.08,"a":"BTC","v":0.00462},{"h":1.12,"a":"BTC","v":0.00635},{"h":1.17,"a":"BTC","v":0.00686},{"h":1.21,"a":"BTC","v":0.00644},{"h":1.24,"a":"BTC","v":0.00367},{"h":1.28,"a":"BTC","v":0.00348},{"h":1.37,"a":"BTC","v":0.00342},{"h":1.41,"a":"BTC","v":0.00386},{"h":1.44,"a":"BTC","v":0.00376},{"h":1.48,"a":"BTC","v":0.00309},{"h":1.52,"a":"BTC","v":0.0029},{"h":1.56,"a":"BTC","v":0.00313},{"h":1.62,"a":"BTC","v":0.00309},{"h":1.66,"a":"BTC","v":0.00313},{"h":1.7,"a":"BTC","v":0.00348},{"h":1.86,"a":"BTC","v":0.00348},{"h":1.89,"a":"BTC","v":0.00294},{"h":2.11,"a":"BTC","v":0.0029},{"h":2.52,"a":"BTC","v":0.00271},{"h":2.54,"a":"BTC","v":0.003},{"h":2.6,"a":"BTC","v":0.0051},{"h":2.65,"a":"BTC","v":0.005},{"h":2.72,"a":"BTC","v":0.00491},{"h":2.76,"a":"BTC","v":0.00468},{"h":2.9,"a":"BTC","v":0.00466},{"h":2.95,"a":"BTC","v":0.00453},{"h":3.0,"a":"BTC","v":0.0038},{"h":3.05,"a":"BTC","v":0.00405},{"h":3.09,"a":"BTC","v":0.00491},{"h":3.14,"a":"BTC","v":0.00759},{"h":3.23,"a":"BTC","v":0.00788},{"h":3.28,"a":"BTC","v":0.00855},{"h":3.32,"a":"BTC","v":0.00931},{"h":3.36,"a":"BTC","v":0.00883},{"h":3.44,"a":"BTC","v":0.00788},{"h":3.5,"a":"BTC","v":0.00682},{"h":3.55,"a":"BTC","v":0.00472},{"h":3.61,"a":"BTC","v":0.00376},{"h":3.64,"a":"BTC","v":0.00328},{"h":3.72,"a":"BTC","v":0.00319},{"h":3.83,"a":"BTC","v":0.00328},{"h":3.88,"a":"BTC","v":0.00348},{"h":3.99,"a":"BTC","v":0.00395},{"h":4.1,"a":"BTC","v":0.00367},{"h":4.18,"a":"BTC","v":0.003},{"h":4.34,"a":"BTC","v":0.00284},{"h":4.4,"a":"BTC","v":0.00309},{"h":4.67,"a":"BTC","v":0.003},{"h":4.75,"a":"BTC","v":0.00296},{"h":4.78,"a":"BTC","v":0.00309},{"h":4.82,"a":"BTC","v":0.0029},{"h":4.86,"a":"BTC","v":0.00309},{"h":4.89,"a":"BTC","v":0.00271},{"h":4.92,"a":"BTC","v":0.003},{"h":5.0,"a":"BTC","v":0.00284},{"h":5.16,"a":"BTC","v":0.00285},{"h":5.44,"a":"BTC","v":0.00281},{"h":5.48,"a":"BTC","v":0.00284},{"h":5.53,"a":"BTC","v":0.00271},{"h":5.72,"a":"BTC","v":0.00256},{"h":6.0,"a":"BTC","v":0.00233},{"h":6.28,"a":"BTC","v":0.00214},{"h":6.31,"a":"BTC","v":0.00242},{"h":6.35,"a":"BTC","v":0.00462},{"h":6.4,"a":"BTC","v":0.00472},{"h":6.47,"a":"BTC","v":0.00462},{"h":6.52,"a":"BTC","v":0.00472},{"h":6.56,"a":"BTC","v":0.00478},{"h":6.59,"a":"BTC","v":0.00462},{"h":6.64,"a":"BTC","v":0.00434},{"h":6.67,"a":"BTC","v":0.00386},{"h":6.75,"a":"BTC","v":0.00328},{"h":6.8,"a":"BTC","v":0.00242},{"h":6.94,"a":"BTC","v":0.00237},{"h":7.03,"a":"BTC","v":0.00237},{"h":7.08,"a":"BTC","v":0.003},{"h":7.13,"a":"BTC","v":0.00328},{"h":7.17,"a":"BTC","v":0.00501},{"h":7.25,"a":"BTC","v":0.00696},{"h":7.34,"a":"BTC","v":0.00702},{"h":7.41,"a":"BTC","v":0.00721},{"h":7.46,"a":"BTC","v":0.00673},{"h":7.5,"a":"BTC","v":0.00615},{"h":7.55,"a":"BTC","v":0.00539},{"h":7.59,"a":"BTC","v":0.00453},{"h":7.62,"a":"BTC","v":0.00481},{"h":7.64,"a":"BTC","v":0.00558},{"h":7.69,"a":"BTC","v":0.00596},{"h":7.73,"a":"BTC","v":0.0073},{"h":7.76,"a":"BTC","v":0.00845},{"h":7.8,"a":"BTC","v":0.00835},{"h":7.83,"a":"BTC","v":0.00768},{"h":7.88,"a":"BTC","v":0.00701},{"h":7.92,"a":"BTC","v":0.00635},{"h":7.96,"a":"BTC","v":0.00621},{"h":8.02,"a":"BTC","v":0.00606},{"h":8.07,"a":"BTC","v":0.00462},{"h":8.1,"a":"BTC","v":0.00434},{"h":8.14,"a":"BTC","v":0.00309},{"h":8.18,"a":"BTC","v":0.0029},{"h":8.39,"a":"BTC","v":0.00284},{"h":8.44,"a":"BTC","v":0.00309},{"h":8.46,"a":"BTC","v":0.00371},{"h":8.5,"a":"BTC","v":0.0039},{"h":8.53,"a":"BTC","v":0.00344},{"h":8.58,"a":"BTC","v":0.00338},{"h":8.63,"a":"BTC","v":0.00348},{"h":8.7,"a":"BTC","v":0.00332},{"h":8.74,"a":"BTC","v":0.00328},{"h":8.79,"a":"BTC","v":0.00304},{"h":8.86,"a":"BTC","v":0.00261},{"h":8.96,"a":"BTC","v":0.00271},{"h":9.03,"a":"BTC","v":0.00294},{"h":9.09,"a":"BTC","v":0.00348},{"h":9.12,"a":"BTC","v":0.00462},{"h":9.14,"a":"BTC","v":0.00644},{"h":9.19,"a":"BTC","v":0.00682},{"h":9.24,"a":"BTC","v":0.00759},{"h":9.27,"a":"BTC","v":0.00845},{"h":9.31,"a":"BTC","v":0.0095},{"h":9.34,"a":"BTC","v":0.00902},{"h":9.37,"a":"BTC","v":0.00845},{"h":9.4,"a":"BTC","v":0.00883},{"h":9.43,"a":"BTC","v":0.00816},{"h":9.47,"a":"BTC","v":0.00797},{"h":9.52,"a":"BTC","v":0.00778},{"h":9.56,"a":"BTC","v":0.00768},{"h":9.59,"a":"BTC","v":0.00462},{"h":9.64,"a":"BTC","v":0.00386},{"h":9.68,"a":"BTC","v":0.00348},{"h":9.73,"a":"BTC","v":0.0029},{"h":9.8,"a":"BTC","v":0.00281},{"h":9.85,"a":"BTC","v":0.00294},{"h":9.89,"a":"BTC","v":0.00328},{"h":10.08,"a":"BTC","v":0.00328},{"h":10.13,"a":"BTC","v":0.00309},{"h":10.17,"a":"BTC","v":0.00271},{"h":10.22,"a":"BTC","v":0.00252},{"h":10.27,"a":"BTC","v":0.00256},{"h":10.31,"a":"BTC","v":0.00319},{"h":10.36,"a":"BTC","v":0.00338},{"h":10.41,"a":"BTC","v":0.00338},{"h":10.48,"a":"BTC","v":0.00328},{"h":10.55,"a":"BTC","v":0.0029},{"h":10.64,"a":"BTC","v":0.00237},{"h":10.78,"a":"BTC","v":0.00233},{"h":10.9,"a":"BTC","v":0.00229},{"h":10.93,"a":"BTC","v":0.0029},{"h":11.25,"a":"BTC","v":0.0029},{"h":11.3,"a":"BTC","v":0.00281},{"h":11.35,"a":"BTC","v":0.00296},{"h":11.44,"a":"BTC","v":0.003},{"h":11.48,"a":"BTC","v":0.00233},{"h":11.52,"a":"BTC","v":0.00261},{"h":11.57,"a":"BTC","v":0.00256},{"h":11.63,"a":"BTC","v":0.00233},{"h":11.78,"a":"BTC","v":0.00229},{"h":11.81,"a":"BTC","v":0.00348},{"h":11.87,"a":"BTC","v":0.00453},{"h":11.93,"a":"BTC","v":0.00424},{"h":11.97,"a":"BTC","v":0.00415},{"h":12.02,"a":"BTC","v":0.00443},{"h":12.12,"a":"BTC","v":0.00443},{"h":12.19,"a":"BTC","v":0.00485},{"h":12.28,"a":"BTC","v":0.00481},{"h":12.33,"a":"BTC","v":0.00424},{"h":12.38,"a":"BTC","v":0.00319},{"h":12.42,"a":"BTC","v":0.00271},{"h":12.51,"a":"BTC","v":0.00271},{"h":12.67,"a":"BTC","v":0.00261},{"h":12.74,"a":"BTC","v":0.00265},{"h":12.78,"a":"BTC","v":0.00367},{"h":12.83,"a":"BTC","v":0.00558},{"h":12.91,"a":"BTC","v":0.00577},{"h":12.96,"a":"BTC","v":0.00606},{"h":13.02,"a":"BTC","v":0.00625},{"h":13.06,"a":"BTC","v":0.0073},{"h":13.12,"a":"BTC","v":0.00711},{"h":13.14,"a":"BTC","v":0.01065},{"h":13.18,"a":"BTC","v":0.01419},{"h":13.21,"a":"BTC","v":0.01295},{"h":13.24,"a":"BTC","v":0.01275},{"h":13.27,"a":"BTC","v":0.01361},{"h":13.31,"a":"BTC","v":0.0116},{"h":13.35,"a":"BTC","v":0.01122},{"h":13.39,"a":"BTC","v":0.01151},{"h":13.42,"a":"BTC","v":0.01113},{"h":13.46,"a":"BTC","v":0.01141},{"h":13.51,"a":"BTC","v":0.00969},{"h":13.55,"a":"BTC","v":0.00835},{"h":13.59,"a":"BTC","v":0.00778},{"h":13.62,"a":"BTC","v":0.00701},{"h":13.65,"a":"BTC","v":0.00529},{"h":13.69,"a":"BTC","v":0.00415},{"h":13.72,"a":"BTC","v":0.00529},{"h":13.79,"a":"BTC","v":0.00539},{"h":13.82,"a":"BTC","v":0.0052},{"h":13.85,"a":"BTC","v":0.00529},{"h":13.89,"a":"BTC","v":0.00514},{"h":13.93,"a":"BTC","v":0.00778},{"h":13.99,"a":"BTC","v":0.01103},{"h":14.03,"a":"BTC","v":0.01065},{"h":14.07,"a":"BTC","v":0.01055},{"h":14.11,"a":"BTC","v":0.01094},{"h":14.16,"a":"BTC","v":0.01055},{"h":14.32,"a":"BTC","v":0.01055},{"h":14.35,"a":"BTC","v":0.0095},{"h":14.39,"a":"BTC","v":0.00768},{"h":14.43,"a":"BTC","v":0.00855},{"h":14.47,"a":"BTC","v":0.00893},{"h":14.52,"a":"BTC","v":0.00954},{"h":14.56,"a":"BTC","v":0.00931},{"h":14.61,"a":"BTC","v":0.00954},{"h":14.65,"a":"BTC","v":0.00931},{"h":14.69,"a":"BTC","v":0.00921},{"h":14.73,"a":"BTC","v":0.00921},{"h":14.75,"a":"BTC","v":0.00558},{"h":14.8,"a":"BTC","v":0.0051},{"h":14.86,"a":"BTC","v":0.00529},{"h":14.97,"a":"BTC","v":0.00514},{"h":15.03,"a":"BTC","v":0.00654},{"h":15.07,"a":"BTC","v":0.00698},{"h":15.14,"a":"BTC","v":0.00698},{"h":15.2,"a":"BTC","v":0.00673},{"h":15.25,"a":"BTC","v":0.00698},{"h":15.29,"a":"BTC","v":0.00673},{"h":15.32,"a":"BTC","v":0.00912},{"h":15.36,"a":"BTC","v":0.00698},{"h":15.39,"a":"BTC","v":0.00625},{"h":15.44,"a":"BTC","v":0.00577},{"h":15.48,"a":"BTC","v":0.00558},{"h":15.52,"a":"BTC","v":0.00577},{"h":15.56,"a":"BTC","v":0.00558},{"h":15.62,"a":"BTC","v":0.00625},{"h":15.66,"a":"BTC","v":0.00635},{"h":15.69,"a":"BTC","v":0.0074},{"h":15.73,"a":"BTC","v":0.00698},{"h":15.79,"a":"BTC","v":0.00724},{"h":15.83,"a":"BTC","v":0.00698},{"h":15.87,"a":"BTC","v":0.00682},{"h":15.9,"a":"BTC","v":0.005},{"h":15.98,"a":"BTC","v":0.00495},{"h":16.04,"a":"BTC","v":0.005},{"h":16.08,"a":"BTC","v":0.00558},{"h":16.24,"a":"BTC","v":0.00558},{"h":16.28,"a":"BTC","v":0.00481},{"h":16.52,"a":"BTC","v":0.00462},{"h":16.74,"a":"BTC","v":0.00443},{"h":16.8,"a":"BTC","v":0.0051},{"h":16.85,"a":"BTC","v":0.00577},{"h":16.93,"a":"BTC","v":0.00625},{"h":16.97,"a":"BTC","v":0.00568},{"h":17.01,"a":"BTC","v":0.00472},{"h":17.11,"a":"BTC","v":0.00415},{"h":17.19,"a":"BTC","v":0.00411},{"h":17.36,"a":"BTC","v":0.00399},{"h":17.48,"a":"BTC","v":0.00392},{"h":17.52,"a":"BTC","v":0.00481},{"h":17.59,"a":"BTC","v":0.00481},{"h":17.64,"a":"BTC","v":0.00612},{"h":17.73,"a":"BTC","v":0.0059},{"h":17.76,"a":"BTC","v":0.00529},{"h":17.81,"a":"BTC","v":0.005},{"h":17.85,"a":"BTC","v":0.00367},{"h":18.32,"a":"BTC","v":0.00325},
{"h":0,"a":"SOL","v":0.00558},{"h":0.04,"a":"SOL","v":0.00558},{"h":0.08,"a":"SOL","v":0.00721},{"h":0.12,"a":"SOL","v":0.00778},{"h":0.16,"a":"SOL","v":0.00768},{"h":0.19,"a":"SOL","v":0.00797},{"h":0.23,"a":"SOL","v":0.00778},{"h":0.28,"a":"SOL","v":0.00744},{"h":0.32,"a":"SOL","v":0.00491},{"h":0.37,"a":"SOL","v":0.00453},{"h":0.42,"a":"SOL","v":0.00405},{"h":0.54,"a":"SOL","v":0.00405},{"h":0.57,"a":"SOL","v":0.00481},{"h":0.61,"a":"SOL","v":0.00472},{"h":0.65,"a":"SOL","v":0.00462},{"h":0.69,"a":"SOL","v":0.00577},{"h":0.74,"a":"SOL","v":0.00568},{"h":0.8,"a":"SOL","v":0.00587},{"h":0.88,"a":"SOL","v":0.00587},{"h":0.92,"a":"SOL","v":0.00558},{"h":0.95,"a":"SOL","v":0.00453},{"h":0.99,"a":"SOL","v":0.00462},{"h":1.04,"a":"SOL","v":0.00491},{"h":1.08,"a":"SOL","v":0.00491},{"h":1.1,"a":"SOL","v":0.00654},{"h":1.17,"a":"SOL","v":0.00711},{"h":1.21,"a":"SOL","v":0.00682},{"h":1.24,"a":"SOL","v":0.00405},{"h":1.41,"a":"SOL","v":0.00405},{"h":1.44,"a":"SOL","v":0.0052},{"h":1.51,"a":"SOL","v":0.0051},{"h":1.56,"a":"SOL","v":0.00472},{"h":1.61,"a":"SOL","v":0.00424},{"h":1.73,"a":"SOL","v":0.00418},{"h":1.81,"a":"SOL","v":0.00457},{"h":1.86,"a":"SOL","v":0.00635},{"h":1.9,"a":"SOL","v":0.00641},{"h":1.93,"a":"SOL","v":0.00682},{"h":1.97,"a":"SOL","v":0.00768},{"h":2.01,"a":"SOL","v":0.00612},{"h":2.08,"a":"SOL","v":0.00606},{"h":2.14,"a":"SOL","v":0.00577},{"h":2.19,"a":"SOL","v":0.00529},{"h":2.24,"a":"SOL","v":0.0052},{"h":2.27,"a":"SOL","v":0.00472},{"h":2.45,"a":"SOL","v":0.00405},{"h":2.52,"a":"SOL","v":0.00405},{"h":2.6,"a":"SOL","v":0.00768},{"h":2.65,"a":"SOL","v":0.0074},{"h":2.76,"a":"SOL","v":0.0074},{"h":2.82,"a":"SOL","v":0.00893},{"h":2.9,"a":"SOL","v":0.00893},{"h":2.97,"a":"SOL","v":0.00845},{"h":3.01,"a":"SOL","v":0.00682},{"h":3.08,"a":"SOL","v":0.00568},{"h":3.13,"a":"SOL","v":0.00874},{"h":3.2,"a":"SOL","v":0.00874},{"h":3.24,"a":"SOL","v":0.00836},{"h":3.31,"a":"SOL","v":0.00988},{"h":3.35,"a":"SOL","v":0.00988},{"h":3.39,"a":"SOL","v":0.00912},{"h":3.46,"a":"SOL","v":0.00816},{"h":3.51,"a":"SOL","v":0.00625},{"h":3.57,"a":"SOL","v":0.00462},{"h":3.63,"a":"SOL","v":0.00424},{"h":3.72,"a":"SOL","v":0.00415},{"h":3.8,"a":"SOL","v":0.00405},{"h":5.31,"a":"SOL","v":0.00405},{"h":5.35,"a":"SOL","v":0.00481},{"h":5.4,"a":"SOL","v":0.00485},{"h":5.46,"a":"SOL","v":0.00501},{"h":5.5,"a":"SOL","v":0.00481},{"h":5.56,"a":"SOL","v":0.00405},{"h":6.32,"a":"SOL","v":0.00405},{"h":6.37,"a":"SOL","v":0.00501},{"h":6.43,"a":"SOL","v":0.00504},{"h":6.47,"a":"SOL","v":0.00453},{"h":6.56,"a":"SOL","v":0.00453},{"h":6.61,"a":"SOL","v":0.00462},{"h":6.66,"a":"SOL","v":0.00405},{"h":7.1,"a":"SOL","v":0.00405},{"h":7.15,"a":"SOL","v":0.00424},{"h":7.2,"a":"SOL","v":0.00692},{"h":7.26,"a":"SOL","v":0.01145},{"h":7.36,"a":"SOL","v":0.01145},{"h":7.4,"a":"SOL","v":0.01164},{"h":7.43,"a":"SOL","v":0.01166},{"h":7.48,"a":"SOL","v":0.01113},{"h":7.52,"a":"SOL","v":0.01027},{"h":7.55,"a":"SOL","v":0.00941},{"h":7.57,"a":"SOL","v":0.00816},{"h":7.62,"a":"SOL","v":0.00797},{"h":7.67,"a":"SOL","v":0.00705},{"h":7.69,"a":"SOL","v":0.00788},{"h":7.73,"a":"SOL","v":0.00912},{"h":7.76,"a":"SOL","v":0.00902},{"h":7.82,"a":"SOL","v":0.00864},{"h":7.87,"a":"SOL","v":0.00845},{"h":7.92,"a":"SOL","v":0.00701},{"h":8.02,"a":"SOL","v":0.00701},{"h":8.05,"a":"SOL","v":0.00692},{"h":8.09,"a":"SOL","v":0.00638},{"h":8.14,"a":"SOL","v":0.0051},{"h":8.23,"a":"SOL","v":0.00491},{"h":8.27,"a":"SOL","v":0.00481},{"h":8.3,"a":"SOL","v":0.00405},{"h":8.39,"a":"SOL","v":0.00405},{"h":8.44,"a":"SOL","v":0.00539},{"h":8.5,"a":"SOL","v":0.00612},{"h":8.58,"a":"SOL","v":0.00568},{"h":8.63,"a":"SOL","v":0.0052},{"h":8.74,"a":"SOL","v":0.00516},{"h":8.77,"a":"SOL","v":0.00491},{"h":8.81,"a":"SOL","v":0.00501},{"h":8.86,"a":"SOL","v":0.00405},{"h":9.1,"a":"SOL","v":0.00405},{"h":9.14,"a":"SOL","v":0.00462},{"h":9.2,"a":"SOL","v":0.00558},{"h":9.24,"a":"SOL","v":0.00625},{"h":9.28,"a":"SOL","v":0.00615},{"h":9.31,"a":"SOL","v":0.00883},{"h":9.35,"a":"SOL","v":0.00845},{"h":9.4,"a":"SOL","v":0.00797},{"h":9.45,"a":"SOL","v":0.00822},{"h":9.51,"a":"SOL","v":0.00822},{"h":9.54,"a":"SOL","v":0.00797},{"h":9.57,"a":"SOL","v":0.00797},{"h":9.6,"a":"SOL","v":0.00501},{"h":9.65,"a":"SOL","v":0.00481},{"h":9.7,"a":"SOL","v":0.00462},{"h":9.73,"a":"SOL","v":0.00405},{"h":11.16,"a":"SOL","v":0.00405},{"h":11.21,"a":"SOL","v":0.00439},{"h":11.25,"a":"SOL","v":0.00405},{"h":11.54,"a":"SOL","v":0.00405},{"h":11.58,"a":"SOL","v":0.00619},{"h":11.63,"a":"SOL","v":0.00644},{"h":11.68,"a":"SOL","v":0.00619},{"h":11.74,"a":"SOL","v":0.00619},{"h":11.78,"a":"SOL","v":0.00644},{"h":11.82,"a":"SOL","v":0.00788},{"h":11.87,"a":"SOL","v":0.00826},{"h":11.91,"a":"SOL","v":0.0073},{"h":11.95,"a":"SOL","v":0.00529},{"h":12.0,"a":"SOL","v":0.0051},{"h":12.05,"a":"SOL","v":0.00501},{"h":12.09,"a":"SOL","v":0.00405},{"h":12.72,"a":"SOL","v":0.00405},{"h":12.78,"a":"SOL","v":0.00558},{"h":12.85,"a":"SOL","v":0.00759},{"h":12.89,"a":"SOL","v":0.00749},{"h":12.93,"a":"SOL","v":0.00768},{"h":12.97,"a":"SOL","v":0.00673},{"h":13.02,"a":"SOL","v":0.00759},{"h":13.06,"a":"SOL","v":0.0073},{"h":13.09,"a":"SOL","v":0.00759},{"h":13.12,"a":"SOL","v":0.00644},{"h":13.14,"a":"SOL","v":0.01027},{"h":13.18,"a":"SOL","v":0.01419},{"h":13.22,"a":"SOL","v":0.01285},{"h":13.26,"a":"SOL","v":0.01266},{"h":13.28,"a":"SOL","v":0.01333},{"h":13.31,"a":"SOL","v":0.01122},{"h":13.35,"a":"SOL","v":0.01094},{"h":13.39,"a":"SOL","v":0.01132},{"h":13.43,"a":"SOL","v":0.01094},{"h":13.46,"a":"SOL","v":0.01103},{"h":13.51,"a":"SOL","v":0.01017},{"h":13.55,"a":"SOL","v":0.01008},{"h":13.58,"a":"SOL","v":0.00845},{"h":13.61,"a":"SOL","v":0.00826},{"h":13.65,"a":"SOL","v":0.00568},{"h":13.69,"a":"SOL","v":0.00577},{"h":13.73,"a":"SOL","v":0.00682},{"h":13.79,"a":"SOL","v":0.00673},{"h":13.83,"a":"SOL","v":0.00701},{"h":13.87,"a":"SOL","v":0.00673},{"h":13.9,"a":"SOL","v":0.00797},{"h":13.94,"a":"SOL","v":0.00969},{"h":13.99,"a":"SOL","v":0.01094},{"h":14.03,"a":"SOL","v":0.01017},{"h":14.1,"a":"SOL","v":0.00998},{"h":14.16,"a":"SOL","v":0.01036},{"h":14.2,"a":"SOL","v":0.00998},{"h":14.3,"a":"SOL","v":0.00998},{"h":14.32,"a":"SOL","v":0.01065},{"h":14.38,"a":"SOL","v":0.00941},{"h":14.44,"a":"SOL","v":0.00874},{"h":14.49,"a":"SOL","v":0.00864},{"h":14.55,"a":"SOL","v":0.00893},{"h":14.61,"a":"SOL","v":0.00893},{"h":14.66,"a":"SOL","v":0.00874},{"h":14.72,"a":"SOL","v":0.00874},{"h":14.75,"a":"SOL","v":0.00606},{"h":14.77,"a":"SOL","v":0.00568},{"h":14.82,"a":"SOL","v":0.00663},{"h":14.86,"a":"SOL","v":0.00644},{"h":14.9,"a":"SOL","v":0.00663},{"h":14.95,"a":"SOL","v":0.00654},{"h":15.0,"a":"SOL","v":0.00644},{"h":15.04,"a":"SOL","v":0.0073},{"h":15.08,"a":"SOL","v":0.00768},{"h":15.14,"a":"SOL","v":0.00759},{"h":15.21,"a":"SOL","v":0.00768},{"h":15.25,"a":"SOL","v":0.0073},{"h":15.29,"a":"SOL","v":0.0073},{"h":15.33,"a":"SOL","v":0.01008},{"h":15.36,"a":"SOL","v":0.00855},{"h":15.39,"a":"SOL","v":0.0074},{"h":15.44,"a":"SOL","v":0.00768},{"h":15.48,"a":"SOL","v":0.00749},{"h":15.52,"a":"SOL","v":0.00768},{"h":15.56,"a":"SOL","v":0.00768},{"h":15.61,"a":"SOL","v":0.00874},{"h":15.65,"a":"SOL","v":0.00946},{"h":15.67,"a":"SOL","v":0.00941},{"h":15.71,"a":"SOL","v":0.00701},{"h":15.76,"a":"SOL","v":0.00654},{"h":15.8,"a":"SOL","v":0.00682},{"h":15.84,"a":"SOL","v":0.00644},{"h":15.9,"a":"SOL","v":0.00558},{"h":15.98,"a":"SOL","v":0.00568},{"h":16.07,"a":"SOL","v":0.00564},{"h":16.21,"a":"SOL","v":0.00568},{"h":16.26,"a":"SOL","v":0.00533},{"h":16.35,"a":"SOL","v":0.0052},{"h":16.41,"a":"SOL","v":0.00526},{"h":16.52,"a":"SOL","v":0.0052},{"h":16.57,"a":"SOL","v":0.0051},{"h":16.73,"a":"SOL","v":0.00497},{"h":16.77,"a":"SOL","v":0.00587},{"h":16.83,"a":"SOL","v":0.00663},{"h":16.87,"a":"SOL","v":0.00772},{"h":16.91,"a":"SOL","v":0.00768},{"h":16.94,"a":"SOL","v":0.00701},{"h":16.97,"a":"SOL","v":0.00682},{"h":17.01,"a":"SOL","v":0.00568},{"h":17.08,"a":"SOL","v":0.00548},{"h":17.14,"a":"SOL","v":0.00529},{"h":17.19,"a":"SOL","v":0.005},{"h":17.25,"a":"SOL","v":0.00472},{"h":17.3,"a":"SOL","v":0.00457},{"h":17.36,"a":"SOL","v":0.00453},{"h":17.39,"a":"SOL","v":0.00568},{"h":17.42,"a":"SOL","v":0.00583},{"h":17.44,"a":"SOL","v":0.00558},{"h":17.48,"a":"SOL","v":0.00468},{"h":17.53,"a":"SOL","v":0.00457},{"h":17.59,"a":"SOL","v":0.00491},{"h":17.67,"a":"SOL","v":0.00495},{"h":17.73,"a":"SOL","v":0.00453},{"h":17.78,"a":"SOL","v":0.00405},{"h":18.32,"a":"SOL","v":0.00405}
],
"floors":[{"a":"BTC","f":0.002},{"a":"ETH","f":0.003},{"a":"SOL","f":0.004}],
"lp":[
{"h":0,"a":"BTC","v":-0.552},{"h":13.14,"a":"BTC","v":-0.552},{"h":13.145,"a":"BTC","v":0.19},{"h":18.32,"a":"BTC","v":0.19},
{"h":0,"a":"ETH","v":0.898},{"h":13.14,"a":"ETH","v":0.898},{"h":13.145,"a":"ETH","v":0.055},{"h":18.32,"a":"ETH","v":0.055},
{"h":0,"a":"SOL","v":0.362},{"h":13.14,"a":"SOL","v":0.362},{"h":13.145,"a":"SOL","v":0.324},{"h":18.32,"a":"SOL","v":0.324}
],
"shade":[{"x0":0,"x1":18.32}]
},
"vconcat":[
{"width":1644,"height":429,
"layer":[
{"data":{"values":[{}]},"mark":{"type":"rule","color":"#565c64","strokeWidth":1.3},"encoding":{"y":{"datum":0,"type":"quantitative","scale":{"domain":[-7120000,8770000],"nice":false,"zero":false}}}},
{"data":{"name":"skew"},"mark":{"type":"line","strokeWidth":2.2},
"encoding":{
"x":{"field":"h","type":"quantitative","scale":{"domain":[-0.914,19.21],"nice":false,"zero":false},"axis":{"values":[0,2,4,6,8,10,12,14,16,18],"labels":false,"title":null}},
"y":{"field":"v","type":"quantitative","scale":{"domain":[-7120000,8770000],"nice":false,"zero":false},"axis":{"values":[-6000000,-4000000,-2000000,0,2000000,4000000,6000000,8000000],"labelExpr":"(datum.value < 0 ? '-' : '+') + format(abs(datum.value)/1000000, '.1f') + 'M'","title":"net trader skew (USD)"}},
"color":{"field":"a","type":"nominal","scale":{"domain":["BTC","ETH","SOL"],"range":["#f7931a","#8ea0f2","#14e890"]},"legend":{"title":null,"orient":"none","legendX":17,"legendY":17,"direction":"horizontal","symbolType":"M-1,0H5","symbolSize":196,"symbolStrokeWidth":2.2,"labelFontSize":18.5,"labelColor":"#c9d1d9","labelOffset":39,"columnPadding":34,"padding":0}}
}}
]},
{"width":1644,"height":285,
"layer":[
{"data":{"values":[{}]},"mark":{"type":"rule","color":"#f85149","strokeWidth":1.6,"strokeDash":[6,4]},"encoding":{"y":{"datum":1,"type":"quantitative","scale":{"domain":[0,1.075],"nice":false,"zero":false}}}},
{"data":{"values":[{}]},"mark":{"type":"text","align":"right","baseline":"alphabetic","fontSize":15.5,"color":"#f85149"},"encoding":{"x":{"datum":19.11,"type":"quantitative","scale":{"domain":[-0.914,19.21],"nice":false,"zero":false}},"y":{"datum":0.958,"type":"quantitative"},"text":{"value":"red line U = 1"}}},
{"data":{"values":[{}]},"mark":{"type":"text","align":"left","baseline":"alphabetic","fontSize":15.5,"color":"#8b949e"},"encoding":{"x":{"datum":-0.8,"type":"quantitative"},"y":{"datum":0.053,"type":"quantitative"},"text":{"value":"U uses PLACEHOLDER growth constants (pre-D2): not decision-grade"}}},
{"data":{"name":"u"},"mark":{"type":"line","strokeWidth":2.2,"color":"#f5473f"},
"encoding":{
"x":{"field":"h","type":"quantitative","scale":{"domain":[-0.914,19.21],"nice":false,"zero":false},"axis":{"values":[0,2,4,6,8,10,12,14,16,18],"labels":false,"title":null}},
"y":{"field":"u","type":"quantitative","scale":{"domain":[0,1.075],"nice":false,"zero":false},"axis":{"values":[0,0.2,0.4,0.6,0.8,1.0],"format":".1f","title":"exit dial U"}}
}}
]},
{"width":1644,"height":285,
"layer":[
{"data":{"name":"budget"},"mark":{"type":"line"},
"encoding":{
"x":{"field":"h","type":"quantitative","scale":{"domain":[-0.914,19.21],"nice":false,"zero":false},"axis":{"values":[0,2,4,6,8,10,12,14,16,18],"labels":false,"title":null}},
"y":{"field":"v","type":"quantitative","scale":{"domain":[200000,987000],"nice":false,"zero":false},"axis":{"values":[200000,400000,600000,800000],"labelExpr":"format(datum.value/1000, 'd') + 'k'","title":"budget (USD)"}},
"color":{"field":"s","type":"nominal","scale":{"domain":["B_net (min-to-date)","basis","TaR95 (reporting)"],"range":["#3fc050","#1d6b33","#a371f7"]},"legend":{"title":null,"orient":"none","legendX":14,"legendY":204,"direction":"vertical","symbolType":"M-1,0H3","symbolSize":289,"labelFontSize":16.5,"labelColor":"#c9d1d9","labelOffset":22,"rowPadding":5,"padding":0,"labelLimit":400}},
"strokeDash":{"field":"s","type":"nominal","scale":{"domain":["B_net (min-to-date)","basis","TaR95 (reporting)"],"range":[[1,0],[1,0],[6,4]]},"legend":{"title":null,"orient":"none","legendX":14,"legendY":204,"direction":"vertical","symbolType":"M-1,0H3","symbolSize":289,"labelFontSize":16.5,"labelColor":"#c9d1d9","labelOffset":22,"rowPadding":5,"padding":0,"labelLimit":400}},
"strokeWidth":{"field":"s","type":"nominal","scale":{"domain":["B_net (min-to-date)","basis","TaR95 (reporting)"],"range":[3.3,1.1,1.9]},"legend":{"title":null,"orient":"none","legendX":14,"legendY":204,"direction":"vertical","symbolType":"M-1,0H3","symbolSize":289,"labelFontSize":16.5,"labelColor":"#c9d1d9","labelOffset":22,"rowPadding":5,"padding":0,"labelLimit":400}}
}},
{"data":{"name":"u"},"transform":[{"fold":["TaR95 (reporting)"],"as":["s","v"]}],"mark":{"type":"line"},
"encoding":{
"x":{"field":"h","type":"quantitative"},
"y":{"field":"v","type":"quantitative"},
"color":{"field":"s","type":"nominal"},
"strokeDash":{"field":"s","type":"nominal"},
"strokeWidth":{"field":"s","type":"nominal"}
}}
]},
{"width":1644,"height":286,
"layer":[
{"data":{"name":"shade"},"mark":{"type":"rect","color":"#0f1822"},"encoding":{"x":{"field":"x0","type":"quantitative","scale":{"domain":[-0.914,19.21],"nice":false,"zero":false},"axis":{"values":[0,2,4,6,8,10,12,14,16,18],"labels":false,"title":null}},"x2":{"field":"x1"}}},
{"data":{"values":[{}]},"mark":{"type":"rule","color":"#565c64","strokeWidth":1.3},"encoding":{"y":{"datum":0,"type":"quantitative","scale":{"domain":[-173600,78900],"nice":false,"zero":false}}}},
{"data":{"values":[{}]},"mark":{"type":"text","align":"left","baseline":"alphabetic","fontSize":15.5,"color":"#8b949e"},"encoding":{"x":{"datum":-0.8,"type":"quantitative"},"y":{"datum":52900,"type":"quantitative"},"text":{"value":"shaded = incident machine open (episode classification)"}}},
{"data":{"name":"d"},"mark":{"type":"line","strokeWidth":2.2,"color":"#58a6ff"},
"encoding":{
"x":{"field":"h","type":"quantitative"},
"y":{"field":"v","type":"quantitative","scale":{"domain":[-173600,78900],"nice":false,"zero":false},"axis":{"values":[-150000,-100000,-50000,0,50000],"format":"d","title":"D (USD)"}}
}}
]},
{"width":1644,"height":285,
"layer":[
{"data":{"name":"sig"},"mark":{"type":"line","strokeWidth":2.2},
"encoding":{
"x":{"field":"h","type":"quantitative","scale":{"domain":[-0.914,19.21],"nice":false,"zero":false},"axis":{"values":[0,2,4,6,8,10,12,14,16,18],"labels":false,"title":null}},
"y":{"field":"v","type":"quantitative","scale":{"domain":[0.00143,0.01779],"nice":false,"zero":false},"axis":{"values":[0.0025,0.005,0.0075,0.01,0.0125,0.015,0.0175],"format":".4f","title":"sigma gate (/sqrt-h)"}},
"color":{"field":"a","type":"nominal","scale":{"domain":["BTC","ETH","SOL"],"range":["#f7931a","#8ea0f2","#14e890"]},"legend":null}
}},
{"data":{"name":"floors"},"mark":{"type":"rule","strokeWidth":1.3,"strokeDash":[1.5,3]},
"encoding":{
"y":{"field":"f","type":"quantitative"},
"color":{"field":"a","type":"nominal","legend":null}
}},
{"data":{"values":[{}]},"mark":{"type":"text","align":"left","baseline":"alphabetic","fontSize":15.5,"color":"#8b949e"},"encoding":{"x":{"datum":-0.8,"type":"quantitative"},"y":{"datum":0.01616,"type":"quantitative"},"text":{"value":"dotted = running floors"}}}
]},
{"width":1644,"height":214,
"title":{"text":"549 ticks (549 ok) | schemas a6b-flows-1 | gaps shaded | generated 2026-07-24 18:16Z","orient":"bottom","anchor":"start","frame":"group","fontSize":13,"fontWeight":"normal","color":"#8b949e","offset":27,"dx":-137,"font":"DejaVu Sans"},
"layer":[
{"data":{"values":[{}]},"mark":{"type":"rule","color":"#565c64","strokeWidth":1.3},"encoding":{"y":{"datum":0,"type":"quantitative","scale":{"domain":[-0.624,0.969],"nice":false,"zero":false}}}},
{"data":{"name":"lp"},"mark":{"type":"line","strokeWidth":2.4},
"encoding":{
"x":{"field":"h","type":"quantitative","scale":{"domain":[-0.914,19.21],"nice":false,"zero":false},"axis":{"values":[0,2,4,6,8,10,12,14,16,18],"labelExpr":"(datum.value < 10 ? '0' : '') + datum.value + ':00'","title":"UTC, 2026-07-24","labelPadding":7,"titlePadding":8}},
"y":{"field":"v","type":"quantitative","scale":{"domain":[-0.624,0.969],"nice":false,"zero":false},"axis":{"values":[-0.5,0,0.5],"format":".1f","title":"7d LP net outflow (%)"}},
"color":{"field":"a","type":"nominal","scale":{"domain":["BTC","ETH","SOL"],"range":["#f7931a","#8ea0f2","#14e890"]},"legend":null}
}},
{"data":{"values":[{}]},"mark":{"type":"text","align":"left","baseline":"alphabetic","fontSize":15.5,"color":"#8b949e"},"encoding":{"x":{"datum":-0.8,"type":"quantitative"},"y":{"datum":0.734,"type":"quantitative"},"text":{"value":"review thresholds: 20 per market / 15 aggregate (PROVISIONAL)"}}}
]}
]
}
